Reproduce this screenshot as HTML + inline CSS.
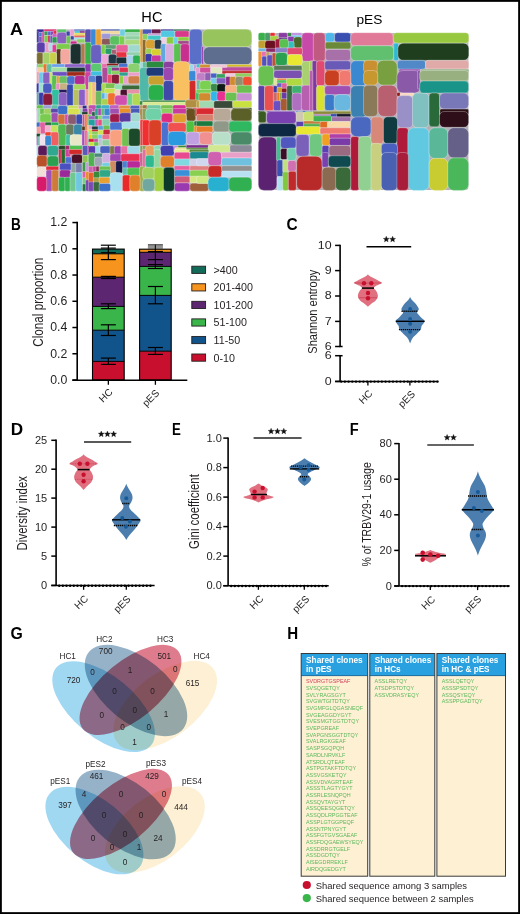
<!DOCTYPE html>
<html><head><meta charset="utf-8"><style>
html,body{margin:0;padding:0;background:#fff;}
body{width:520px;height:914px;overflow:hidden;}
svg{display:block;font-family:"Liberation Sans",sans-serif;}
</style></head><body>
<svg width="520" height="914" viewBox="0 0 520 914">
<rect x="0" y="0" width="520" height="914" fill="#fff"/>
<text transform="translate(9.9,35) scale(1.06,1)" font-size="17" font-weight="bold" fill="#000">A</text>
<text x="151.9" y="21.5" font-size="14.6" text-anchor="middle" fill="#000">HC</text>
<text x="369.4" y="24.2" font-size="13.7" text-anchor="middle" fill="#000">pES</text>
<g><rect x="37" y="29.6" width="214.4" height="161.2" rx="3" fill="#b4b0b8"/><rect x="258.8" y="33.1" width="209.6" height="157" rx="3" fill="#b4b0b8"/><rect x="36.74" y="29.2" width="7.35" height="3.25" rx="0.78" fill="#3a2a9a" stroke="#fff" stroke-width="0.3"/><rect x="44.01" y="29.2" width="12.54" height="2.01" rx="0.48" fill="#e0206a" stroke="#fff" stroke-width="0.3"/><rect x="36.74" y="31.85" width="2.68" height="10.98" rx="0.64" fill="#3a30a0" stroke="#fff" stroke-width="0.3"/><rect x="38.82" y="32.37" width="3.72" height="4.75" rx="0.89" fill="#4a78d0" stroke="#fff" stroke-width="0.3"/><rect x="38.82" y="36.53" width="3.72" height="6.31" rx="0.89" fill="#7a5ab8" stroke="#fff" stroke-width="0.3"/><rect x="41.93" y="31.85" width="2.88" height="10.98" rx="0.69" fill="#d050a8" stroke="#fff" stroke-width="0.3"/><rect x="44.22" y="31.33" width="4.03" height="4.23" rx="0.97" fill="#3a9a5a" stroke="#fff" stroke-width="0.3"/><rect x="47.64" y="31.33" width="3.72" height="4.23" rx="0.89" fill="#5a6ad0" stroke="#fff" stroke-width="0.3"/><rect x="50.76" y="31.33" width="3.2" height="4.23" rx="0.77" fill="#8a3ab0" stroke="#fff" stroke-width="0.3"/><rect x="53.35" y="30.61" width="3.2" height="4.96" rx="0.77" fill="#e0304a" stroke="#fff" stroke-width="0.3"/><rect x="44.22" y="35.49" width="4.03" height="7.35" rx="0.97" fill="#7ad04a" stroke="#fff" stroke-width="0.3"/><rect x="47.64" y="35.49" width="3.2" height="7.35" rx="0.77" fill="#d03a60" stroke="#fff" stroke-width="0.3"/><rect x="50.24" y="35.49" width="2.68" height="7.35" rx="0.64" fill="#5060c0" stroke="#fff" stroke-width="0.3"/><rect x="52.32" y="33.93" width="4.75" height="3.72" rx="0.89" fill="#c860c0" stroke="#fff" stroke-width="0.3"/><rect x="52.32" y="37.05" width="4.75" height="5.79" rx="1.14" fill="#2a9a50" stroke="#fff" stroke-width="0.3"/><rect x="56.99" y="29.2" width="9.43" height="3.77" rx="0.91" fill="#5ac86a" stroke="#fff" stroke-width="0.3"/><rect x="56.99" y="32.37" width="9.95" height="11.5" rx="2.98" fill="#8a60c0" stroke="#fff" stroke-width="0.3"/><rect x="66.33" y="31.33" width="4.23" height="4.75" rx="1.02" fill="#3a48a8" stroke="#fff" stroke-width="0.3"/><rect x="66.33" y="36.01" width="4.23" height="7.87" rx="1.02" fill="#6ac84a" stroke="#fff" stroke-width="0.3"/><rect x="69.97" y="29.2" width="4.75" height="7.41" rx="1.14" fill="#e8a0d0" stroke="#fff" stroke-width="0.3"/><rect x="70.49" y="36.01" width="3.72" height="3.72" rx="0.89" fill="#3a48a8" stroke="#fff" stroke-width="0.3"/><rect x="74.12" y="29.2" width="10.98" height="2.22" rx="0.53" fill="#5a78c8" stroke="#fff" stroke-width="0.3"/><rect x="74.64" y="30.82" width="5.27" height="2.68" rx="0.64" fill="#40c0d0" stroke="#fff" stroke-width="0.3"/><rect x="79.32" y="30.82" width="5.79" height="2.68" rx="0.64" fill="#8a3a90" stroke="#fff" stroke-width="0.3"/><rect x="74.12" y="32.89" width="10.98" height="2.16" rx="0.52" fill="#d8e050" stroke="#fff" stroke-width="0.3"/><rect x="74.12" y="34.45" width="10.98" height="2.16" rx="0.52" fill="#e8a040" stroke="#fff" stroke-width="0.3"/><rect x="74.12" y="36.01" width="10.98" height="2.16" rx="0.52" fill="#e05060" stroke="#fff" stroke-width="0.3"/><rect x="74.12" y="37.57" width="10.98" height="2.16" rx="0.52" fill="#a0e0e8" stroke="#fff" stroke-width="0.3"/><rect x="76.72" y="39.12" width="8.39" height="3.72" rx="0.89" fill="#8ad060" stroke="#fff" stroke-width="0.3"/><rect x="70.49" y="41.2" width="6.31" height="2.68" rx="0.64" fill="#d0208a" stroke="#fff" stroke-width="0.3"/><rect x="85.03" y="29.2" width="6.47" height="13.64" rx="1.55" fill="#5a50b0" stroke="#fff" stroke-width="0.3"/><rect x="36.74" y="42.24" width="8.39" height="10.47" rx="2.52" fill="#5a40a8" stroke="#fff" stroke-width="0.3"/><rect x="45.05" y="42.24" width="4.23" height="10.47" rx="1.02" fill="#e8a0c8" stroke="#fff" stroke-width="0.3"/><rect x="48.68" y="43.28" width="4.23" height="7.35" rx="1.02" fill="#a8e0e8" stroke="#fff" stroke-width="0.3"/><rect x="52.32" y="44.83" width="4.23" height="7.35" rx="1.02" fill="#e83a9a" stroke="#fff" stroke-width="0.3"/><rect x="56.47" y="43.8" width="13.58" height="5.79" rx="1.39" fill="#7acc4a" stroke="#fff" stroke-width="0.3"/><rect x="56.47" y="48.99" width="4.75" height="15.14" rx="1.14" fill="#5a3a1a" stroke="#fff" stroke-width="0.3"/><rect x="60.62" y="48.99" width="9.43" height="15.14" rx="2.83" fill="#f4a8a0" stroke="#fff" stroke-width="0.3"/><rect x="70.49" y="43.8" width="10.98" height="20.33" rx="3.3" fill="#1c3030" stroke="#fff" stroke-width="0.3"/><rect x="80.87" y="43.8" width="4.23" height="20.33" rx="1.02" fill="#b07a50" stroke="#fff" stroke-width="0.3"/><rect x="85.03" y="42.24" width="6.47" height="21.89" rx="1.55" fill="#3ab04a" stroke="#fff" stroke-width="0.3"/><rect x="36.74" y="52.62" width="6.31" height="11.5" rx="1.51" fill="#7a6e30" stroke="#fff" stroke-width="0.3"/><rect x="42.97" y="52.62" width="7.35" height="11.5" rx="1.76" fill="#a8d068" stroke="#fff" stroke-width="0.3"/><rect x="49.72" y="52.62" width="6.83" height="11.5" rx="1.64" fill="#c8d04a" stroke="#fff" stroke-width="0.3"/><rect x="36.74" y="64.05" width="1.64" height="6.47" rx="0.39" fill="#60a0e0" stroke="#fff" stroke-width="0.3"/><rect x="37.78" y="64.05" width="6.31" height="6.47" rx="1.51" fill="#90d060" stroke="#fff" stroke-width="0.3"/><rect x="43.23" y="64.05" width="3.97" height="8.37" rx="0.95" fill="#f07030" stroke="#fff" stroke-width="0.3"/><rect x="46.6" y="64.05" width="5.79" height="8.37" rx="1.39" fill="#60c0a0" stroke="#fff" stroke-width="0.3"/><rect x="51.8" y="64.05" width="13.06" height="3.72" rx="0.89" fill="#6aa0e8" stroke="#fff" stroke-width="0.3"/><rect x="51.8" y="67.16" width="13.06" height="3.36" rx="0.81" fill="#a0e0a0" stroke="#fff" stroke-width="0.3"/><rect x="64.78" y="64.05" width="20.33" height="3.72" rx="0.89" fill="#8a60c8" stroke="#fff" stroke-width="0.3"/><rect x="66.85" y="67.16" width="18.25" height="3.36" rx="0.81" fill="#5a3aa8" stroke="#fff" stroke-width="0.3"/><rect x="85.03" y="64.05" width="6.47" height="8.37" rx="1.55" fill="#8a3ab0" stroke="#fff" stroke-width="0.3"/><rect x="90.74" y="29.2" width="5.27" height="16.23" rx="1.27" fill="#3a8ad8" stroke="#fff" stroke-width="0.3"/><rect x="95.93" y="29.2" width="5.27" height="16.23" rx="1.27" fill="#e8a030" stroke="#fff" stroke-width="0.3"/><rect x="101.12" y="29.2" width="18.77" height="2.22" rx="0.53" fill="#4a5ab0" stroke="#fff" stroke-width="0.3"/><rect x="101.12" y="30.82" width="18.77" height="3.2" rx="0.77" fill="#f0d8a0" stroke="#fff" stroke-width="0.3"/><rect x="101.64" y="33.41" width="8.91" height="5.79" rx="1.39" fill="#a098d8" stroke="#fff" stroke-width="0.3"/><rect x="101.64" y="38.6" width="8.91" height="6.31" rx="1.51" fill="#8a5a5a" stroke="#fff" stroke-width="0.3"/><rect x="109.95" y="36.01" width="9.95" height="8.91" rx="2.67" fill="#5ac060" stroke="#fff" stroke-width="0.3"/><rect x="119.3" y="36.01" width="5.27" height="8.91" rx="1.27" fill="#7ad04a" stroke="#fff" stroke-width="0.3"/><rect x="119.82" y="29.2" width="5.79" height="6.89" rx="1.39" fill="#70d0e0" stroke="#fff" stroke-width="0.3"/><rect x="125.01" y="29.2" width="15.14" height="3.77" rx="0.91" fill="#3ab04a" stroke="#fff" stroke-width="0.3"/><rect x="125.01" y="32.37" width="15.14" height="4.23" rx="1.02" fill="#a0d8b8" stroke="#fff" stroke-width="0.3"/><rect x="125.01" y="36.01" width="15.14" height="4.23" rx="1.02" fill="#90d0a0" stroke="#fff" stroke-width="0.3"/><rect x="125.01" y="39.64" width="15.14" height="5.27" rx="1.27" fill="#a8d880" stroke="#fff" stroke-width="0.3"/><rect x="140.07" y="29.2" width="5.43" height="33.37" rx="1.3" fill="#e8a030" stroke="#fff" stroke-width="0.3"/><rect x="90.74" y="44.83" width="10.98" height="18.77" rx="3.3" fill="#6a60c0" stroke="#fff" stroke-width="0.3"/><rect x="101.12" y="44.83" width="4.23" height="9.43" rx="1.02" fill="#7ad04a" stroke="#fff" stroke-width="0.3"/><rect x="105.28" y="44.83" width="10.98" height="4.23" rx="1.02" fill="#5aa070" stroke="#fff" stroke-width="0.3"/><rect x="105.28" y="48.47" width="6.83" height="5.79" rx="1.39" fill="#2a9a6a" stroke="#fff" stroke-width="0.3"/><rect x="111.51" y="49.51" width="5.27" height="4.75" rx="1.14" fill="#a06070" stroke="#fff" stroke-width="0.3"/><rect x="116.18" y="44.83" width="12.02" height="7.87" rx="1.89" fill="#e8609a" stroke="#fff" stroke-width="0.3"/><rect x="116.18" y="52.1" width="10.98" height="5.79" rx="1.39" fill="#e83040" stroke="#fff" stroke-width="0.3"/><rect x="128.12" y="44.83" width="12.02" height="7.87" rx="1.89" fill="#a0d8d0" stroke="#fff" stroke-width="0.3"/><rect x="126.57" y="52.1" width="13.58" height="3.72" rx="0.89" fill="#90d0b0" stroke="#fff" stroke-width="0.3"/><rect x="101.64" y="54.18" width="7.35" height="9.43" rx="1.76" fill="#f0a8d8" stroke="#fff" stroke-width="0.3"/><rect x="108.39" y="54.18" width="8.39" height="9.95" rx="2.52" fill="#1e3848" stroke="#fff" stroke-width="0.3"/><rect x="116.18" y="57.3" width="10.98" height="6.83" rx="1.64" fill="#1a3038" stroke="#fff" stroke-width="0.3"/><rect x="126.57" y="55.22" width="6.83" height="8.91" rx="1.64" fill="#a8d0f0" stroke="#fff" stroke-width="0.3"/><rect x="132.8" y="55.22" width="7.35" height="8.91" rx="1.76" fill="#2ab050" stroke="#fff" stroke-width="0.3"/><rect x="90.74" y="63.53" width="10.98" height="8.37" rx="2.51" fill="#5ac870" stroke="#fff" stroke-width="0.3"/><rect x="101.64" y="63.53" width="5.79" height="6.99" rx="1.39" fill="#e870b0" stroke="#fff" stroke-width="0.3"/><rect x="106.83" y="63.53" width="11.5" height="2.68" rx="0.64" fill="#8a1a1a" stroke="#fff" stroke-width="0.3"/><rect x="106.83" y="65.6" width="11.5" height="4.92" rx="1.18" fill="#5ab090" stroke="#fff" stroke-width="0.3"/><rect x="118.78" y="63.53" width="8.91" height="4.23" rx="1.02" fill="#4a70d0" stroke="#fff" stroke-width="0.3"/><rect x="118.78" y="67.16" width="8.91" height="3.36" rx="0.81" fill="#e04060" stroke="#fff" stroke-width="0.3"/><rect x="128.12" y="63.53" width="11.76" height="9.41" rx="2.82" fill="#8ad070" stroke="#fff" stroke-width="0.3"/><rect x="140.07" y="61.97" width="5.43" height="8.55" rx="1.3" fill="#a0d8e8" stroke="#fff" stroke-width="0.3"/><rect x="142.5" y="29.2" width="9.07" height="5.33" rx="1.28" fill="#4a5ab8" stroke="#fff" stroke-width="0.3"/><rect x="151.49" y="29.2" width="9.43" height="4.81" rx="1.15" fill="#6a1a4a" stroke="#fff" stroke-width="0.3"/><rect x="160.83" y="29.2" width="13.58" height="2.01" rx="0.48" fill="#3a3a9a" stroke="#fff" stroke-width="0.3"/><rect x="173.82" y="29.2" width="15.66" height="2.01" rx="0.48" fill="#2a7a4a" stroke="#fff" stroke-width="0.3"/><rect x="142.5" y="33.93" width="5.43" height="5.79" rx="1.3" fill="#8ad060" stroke="#fff" stroke-width="0.3"/><rect x="147.85" y="33.41" width="13.06" height="2.68" rx="0.64" fill="#d0a0d8" stroke="#fff" stroke-width="0.3"/><rect x="147.85" y="35.49" width="13.06" height="4.75" rx="1.14" fill="#40c8c8" stroke="#fff" stroke-width="0.3"/><rect x="160.83" y="30.82" width="14.1" height="6.83" rx="1.64" fill="#50c8e0" stroke="#fff" stroke-width="0.3"/><rect x="174.85" y="30.82" width="14.1" height="6.83" rx="1.64" fill="#d83a8a" stroke="#fff" stroke-width="0.3"/><rect x="160.83" y="37.05" width="6.31" height="6.83" rx="1.51" fill="#f0d0e8" stroke="#fff" stroke-width="0.3"/><rect x="166.55" y="37.05" width="7.35" height="7.35" rx="1.76" fill="#8acc40" stroke="#fff" stroke-width="0.3"/><rect x="173.3" y="37.05" width="5.27" height="7.35" rx="1.27" fill="#70d0e8" stroke="#fff" stroke-width="0.3"/><rect x="177.97" y="37.05" width="10.98" height="4.23" rx="1.02" fill="#8ad040" stroke="#fff" stroke-width="0.3"/><rect x="177.97" y="40.68" width="10.98" height="3.72" rx="0.89" fill="#a04a8a" stroke="#fff" stroke-width="0.3"/><rect x="142.5" y="39.64" width="3.36" height="22.93" rx="0.81" fill="#8a6a30" stroke="#fff" stroke-width="0.3"/><rect x="145.78" y="39.64" width="9.43" height="9.43" rx="2.83" fill="#d8a030" stroke="#fff" stroke-width="0.3"/><rect x="154.6" y="39.64" width="6.83" height="9.43" rx="1.64" fill="#2a3a48" stroke="#fff" stroke-width="0.3"/><rect x="145.78" y="48.47" width="6.31" height="5.79" rx="1.39" fill="#a0d050" stroke="#fff" stroke-width="0.3"/><rect x="151.49" y="48.99" width="9.95" height="6.83" rx="1.64" fill="#d8d030" stroke="#fff" stroke-width="0.3"/><rect x="145.26" y="53.66" width="6.83" height="8.39" rx="1.64" fill="#3a3aa8" stroke="#fff" stroke-width="0.3"/><rect x="151.49" y="55.22" width="9.95" height="7.35" rx="1.76" fill="#c83aa0" stroke="#fff" stroke-width="0.3"/><rect x="160.83" y="43.8" width="5.27" height="18.77" rx="1.27" fill="#60a8e0" stroke="#fff" stroke-width="0.3"/><rect x="165.51" y="43.8" width="8.91" height="18.77" rx="2.67" fill="#d8b0e0" stroke="#fff" stroke-width="0.3"/><rect x="173.82" y="43.8" width="7.35" height="18.77" rx="1.76" fill="#5ac050" stroke="#fff" stroke-width="0.3"/><rect x="180.57" y="43.8" width="8.91" height="18.77" rx="2.67" fill="#c83090" stroke="#fff" stroke-width="0.3"/><rect x="189.39" y="29.2" width="12.85" height="35.45" rx="3.86" fill="#5a70c8" stroke="#fff" stroke-width="0.3"/><rect x="142.5" y="61.97" width="3.88" height="8.55" rx="0.93" fill="#60c0a0" stroke="#fff" stroke-width="0.3"/><rect x="146.3" y="61.45" width="17.73" height="6.31" rx="1.51" fill="#2a8a40" stroke="#fff" stroke-width="0.3"/><rect x="163.43" y="61.45" width="10.47" height="9.07" rx="2.72" fill="#8a40a0" stroke="#fff" stroke-width="0.3"/><rect x="173.3" y="61.45" width="16.18" height="39.52" rx="4.85" fill="#f8c060" stroke="#fff" stroke-width="0.3"/><rect x="189.39" y="64.57" width="4.75" height="5.95" rx="1.14" fill="#a0d8e8" stroke="#fff" stroke-width="0.3"/><rect x="193.55" y="64.57" width="5.95" height="5.95" rx="1.43" fill="#c0a0d8" stroke="#fff" stroke-width="0.3"/><rect x="201.65" y="46.39" width="1.85" height="17.73" rx="0.44" fill="#9a40b0" stroke="#fff" stroke-width="0.3"/><rect x="202.37" y="29.2" width="49.43" height="17.79" rx="5.34" fill="#98c45e" stroke="#fff" stroke-width="0.3"/><rect x="203.41" y="46.91" width="48.39" height="17.73" rx="5.32" fill="#5d6e8e" stroke="#fff" stroke-width="0.3"/><rect x="196.5" y="64.05" width="3.88" height="9.41" rx="0.93" fill="#40c0d0" stroke="#fff" stroke-width="0.3"/><rect x="199.78" y="64.57" width="10.98" height="3.72" rx="0.89" fill="#d09030" stroke="#fff" stroke-width="0.3"/><rect x="210.16" y="64.57" width="17.22" height="5.95" rx="1.43" fill="#f0c8d8" stroke="#fff" stroke-width="0.3"/><rect x="226.78" y="64.57" width="25.02" height="2.68" rx="0.64" fill="#d8c020" stroke="#fff" stroke-width="0.3"/><rect x="226.78" y="66.64" width="25.02" height="3.88" rx="0.93" fill="#8a2050" stroke="#fff" stroke-width="0.3"/><rect x="36.5" y="67.5" width="1.36" height="4.92" rx="0.33" fill="#e0a0d0" stroke="#fff" stroke-width="0.3"/><rect x="37.26" y="67.5" width="6.31" height="4.92" rx="1.18" fill="#f0d0a0" stroke="#fff" stroke-width="0.3"/><rect x="51.8" y="67.5" width="15.66" height="4.4" rx="1.06" fill="#a0e0a0" stroke="#fff" stroke-width="0.3"/><rect x="66.85" y="67.5" width="18.25" height="4.92" rx="1.18" fill="#1a3838" stroke="#fff" stroke-width="0.3"/><rect x="51.8" y="71.82" width="15.66" height="4.23" rx="1.02" fill="#6a50c0" stroke="#fff" stroke-width="0.3"/><rect x="66.85" y="71.82" width="18.25" height="4.23" rx="1.02" fill="#a02a1a" stroke="#fff" stroke-width="0.3"/><rect x="36.5" y="71.82" width="2.92" height="12.02" rx="0.7" fill="#f0a0b0" stroke="#fff" stroke-width="0.3"/><rect x="38.82" y="72.33" width="4.75" height="11.5" rx="1.14" fill="#70c8e8" stroke="#fff" stroke-width="0.3"/><rect x="42.97" y="72.33" width="7.35" height="11.5" rx="1.76" fill="#8a60c0" stroke="#fff" stroke-width="0.3"/><rect x="49.72" y="72.33" width="2.68" height="17.73" rx="0.64" fill="#c8e070" stroke="#fff" stroke-width="0.3"/><rect x="51.8" y="75.45" width="5.27" height="14.62" rx="1.27" fill="#5ac050" stroke="#fff" stroke-width="0.3"/><rect x="56.47" y="75.97" width="3.2" height="7.87" rx="0.77" fill="#e8a040" stroke="#fff" stroke-width="0.3"/><rect x="59.07" y="75.97" width="8.39" height="7.87" rx="1.89" fill="#6ac060" stroke="#fff" stroke-width="0.3"/><rect x="66.85" y="75.97" width="8.39" height="8.39" rx="2.52" fill="#4a70d0" stroke="#fff" stroke-width="0.3"/><rect x="74.64" y="75.45" width="10.47" height="9.43" rx="2.83" fill="#b02a90" stroke="#fff" stroke-width="0.3"/><rect x="85.03" y="71.82" width="6.47" height="18.25" rx="1.55" fill="#d040a0" stroke="#fff" stroke-width="0.3"/><rect x="36.5" y="83.24" width="2.92" height="9.95" rx="0.7" fill="#3a3aa8" stroke="#fff" stroke-width="0.3"/><rect x="38.82" y="83.24" width="4.75" height="9.95" rx="1.14" fill="#a0e0d0" stroke="#fff" stroke-width="0.3"/><rect x="42.97" y="83.24" width="8.91" height="9.95" rx="2.67" fill="#4a5ac0" stroke="#fff" stroke-width="0.3"/><rect x="55.95" y="83.24" width="4.23" height="6.83" rx="1.02" fill="#e890c0" stroke="#fff" stroke-width="0.3"/><rect x="59.58" y="83.24" width="7.87" height="6.83" rx="1.64" fill="#c8b080" stroke="#fff" stroke-width="0.3"/><rect x="58.55" y="89.47" width="8.91" height="3.72" rx="0.89" fill="#2a1a5a" stroke="#fff" stroke-width="0.3"/><rect x="51.8" y="89.47" width="7.35" height="15.66" rx="1.76" fill="#30c0a0" stroke="#fff" stroke-width="0.3"/><rect x="58.55" y="92.58" width="8.91" height="13.06" rx="2.67" fill="#8a60c0" stroke="#fff" stroke-width="0.3"/><rect x="66.85" y="84.28" width="6.83" height="21.37" rx="1.64" fill="#3a4ab0" stroke="#fff" stroke-width="0.3"/><rect x="73.08" y="84.28" width="12.54" height="5.79" rx="1.39" fill="#a8d860" stroke="#fff" stroke-width="0.3"/><rect x="73.08" y="89.47" width="6.31" height="16.18" rx="1.51" fill="#b8c060" stroke="#fff" stroke-width="0.3"/><rect x="78.8" y="89.47" width="6.83" height="16.18" rx="1.64" fill="#8a60c8" stroke="#fff" stroke-width="0.3"/><rect x="85.03" y="89.47" width="6.47" height="16.18" rx="1.55" fill="#f0a0a0" stroke="#fff" stroke-width="0.3"/><rect x="36.5" y="92.58" width="2.92" height="13.06" rx="0.7" fill="#70a0b0" stroke="#fff" stroke-width="0.3"/><rect x="38.82" y="92.58" width="4.75" height="12.54" rx="1.14" fill="#3a3aa8" stroke="#fff" stroke-width="0.3"/><rect x="42.97" y="93.62" width="9.43" height="12.02" rx="2.83" fill="#8a1a3a" stroke="#fff" stroke-width="0.3"/><rect x="36.5" y="105.05" width="7.07" height="6.47" rx="1.55" fill="#6ac050" stroke="#fff" stroke-width="0.3"/><rect x="42.97" y="105.05" width="8.91" height="6.47" rx="1.55" fill="#a0a0d8" stroke="#fff" stroke-width="0.3"/><rect x="51.28" y="105.05" width="6.83" height="6.47" rx="1.55" fill="#60c0a0" stroke="#fff" stroke-width="0.3"/><rect x="57.51" y="105.57" width="10.21" height="8.89" rx="2.67" fill="#3a70c8" stroke="#fff" stroke-width="0.3"/><rect x="67.89" y="105.57" width="10.98" height="5.95" rx="1.43" fill="#c8e060" stroke="#fff" stroke-width="0.3"/><rect x="78.28" y="105.57" width="4.75" height="5.95" rx="1.14" fill="#e8a0b0" stroke="#fff" stroke-width="0.3"/><rect x="82.43" y="105.57" width="4.75" height="5.95" rx="1.14" fill="#2a2a8a" stroke="#fff" stroke-width="0.3"/><rect x="86.84" y="105.05" width="4.66" height="9.41" rx="1.12" fill="#e8c060" stroke="#fff" stroke-width="0.3"/><rect x="102.16" y="67.5" width="5.79" height="15.3" rx="1.39" fill="#b04a9a" stroke="#fff" stroke-width="0.3"/><rect x="107.87" y="67.5" width="4.23" height="6.99" rx="1.02" fill="#5ac870" stroke="#fff" stroke-width="0.3"/><rect x="111.51" y="67.5" width="8.39" height="3.88" rx="0.93" fill="#8a3a90" stroke="#fff" stroke-width="0.3"/><rect x="111.51" y="70.78" width="8.39" height="3.72" rx="0.89" fill="#8ad060" stroke="#fff" stroke-width="0.3"/><rect x="119.3" y="67.5" width="8.91" height="5.43" rx="1.3" fill="#e03050" stroke="#fff" stroke-width="0.3"/><rect x="119.3" y="72.33" width="8.91" height="3.72" rx="0.89" fill="#30a090" stroke="#fff" stroke-width="0.3"/><rect x="128.12" y="72.33" width="11.5" height="4.23" rx="1.02" fill="#e8a0c8" stroke="#fff" stroke-width="0.3"/><rect x="139.55" y="67.5" width="9.43" height="33.99" rx="2.83" fill="#50b8a8" stroke="#fff" stroke-width="0.3"/><rect x="90.74" y="71.3" width="10.98" height="4.75" rx="1.14" fill="#40c0e0" stroke="#fff" stroke-width="0.3"/><rect x="88.5" y="75.45" width="6.99" height="15.66" rx="1.68" fill="#5a80d0" stroke="#fff" stroke-width="0.3"/><rect x="95.41" y="75.45" width="6.83" height="16.18" rx="1.64" fill="#2a3a8a" stroke="#fff" stroke-width="0.3"/><rect x="107.35" y="74.41" width="4.75" height="9.43" rx="1.14" fill="#e85070" stroke="#fff" stroke-width="0.3"/><rect x="111.51" y="74.41" width="7.87" height="9.43" rx="1.89" fill="#8a1a3a" stroke="#fff" stroke-width="0.3"/><rect x="119.3" y="75.97" width="4.75" height="7.87" rx="1.14" fill="#8ad040" stroke="#fff" stroke-width="0.3"/><rect x="123.45" y="75.97" width="5.27" height="7.87" rx="1.27" fill="#e8a0d0" stroke="#fff" stroke-width="0.3"/><rect x="128.12" y="75.97" width="11.5" height="7.87" rx="1.89" fill="#d0804a" stroke="#fff" stroke-width="0.3"/><rect x="102.16" y="83.24" width="13.06" height="5.27" rx="1.27" fill="#7ac050" stroke="#fff" stroke-width="0.3"/><rect x="114.62" y="84.28" width="7.87" height="5.79" rx="1.39" fill="#90e0b0" stroke="#fff" stroke-width="0.3"/><rect x="121.89" y="85.32" width="17.73" height="4.75" rx="1.14" fill="#3a6a3a" stroke="#fff" stroke-width="0.3"/><rect x="88.5" y="82.2" width="3.88" height="22.93" rx="0.93" fill="#d8e060" stroke="#fff" stroke-width="0.3"/><rect x="91.78" y="82.2" width="4.23" height="22.93" rx="1.02" fill="#f0c080" stroke="#fff" stroke-width="0.3"/><rect x="95.41" y="91.03" width="6.83" height="14.1" rx="1.64" fill="#70b860" stroke="#fff" stroke-width="0.3"/><rect x="101.64" y="83.24" width="3.72" height="10.47" rx="0.89" fill="#a8d858" stroke="#fff" stroke-width="0.3"/><rect x="104.76" y="88.43" width="10.47" height="5.27" rx="1.27" fill="#c8e050" stroke="#fff" stroke-width="0.3"/><rect x="114.62" y="89.47" width="6.31" height="6.31" rx="1.51" fill="#f0d0c8" stroke="#fff" stroke-width="0.3"/><rect x="120.33" y="89.47" width="7.35" height="6.83" rx="1.64" fill="#4a1030" stroke="#fff" stroke-width="0.3"/><rect x="127.08" y="89.47" width="12.54" height="4.75" rx="1.14" fill="#e890a8" stroke="#fff" stroke-width="0.3"/><rect x="101.64" y="93.1" width="3.72" height="6.31" rx="0.89" fill="#50b0e8" stroke="#fff" stroke-width="0.3"/><rect x="104.76" y="93.1" width="3.72" height="6.31" rx="0.89" fill="#a0d0e0" stroke="#fff" stroke-width="0.3"/><rect x="101.64" y="98.82" width="6.83" height="6.31" rx="1.51" fill="#a8d050" stroke="#fff" stroke-width="0.3"/><rect x="107.87" y="93.1" width="7.35" height="12.02" rx="1.76" fill="#f07030" stroke="#fff" stroke-width="0.3"/><rect x="114.62" y="95.18" width="13.06" height="9.95" rx="2.98" fill="#d050b0" stroke="#fff" stroke-width="0.3"/><rect x="127.08" y="93.62" width="5.79" height="11.5" rx="1.39" fill="#70d090" stroke="#fff" stroke-width="0.3"/><rect x="132.28" y="93.62" width="7.87" height="11.5" rx="1.89" fill="#b0d850" stroke="#fff" stroke-width="0.3"/><rect x="139.55" y="100.89" width="5.95" height="4.23" rx="1.02" fill="#3a8a40" stroke="#fff" stroke-width="0.3"/><rect x="88.5" y="105.05" width="8.03" height="6.47" rx="1.55" fill="#c050b0" stroke="#fff" stroke-width="0.3"/><rect x="95.93" y="105.05" width="5.79" height="6.47" rx="1.39" fill="#30a090" stroke="#fff" stroke-width="0.3"/><rect x="101.12" y="105.05" width="8.91" height="6.47" rx="1.55" fill="#40b0c8" stroke="#fff" stroke-width="0.3"/><rect x="109.43" y="105.05" width="9.95" height="6.47" rx="1.55" fill="#c060c0" stroke="#fff" stroke-width="0.3"/><rect x="118.78" y="105.57" width="12.02" height="5.95" rx="1.43" fill="#e09040" stroke="#fff" stroke-width="0.3"/><rect x="130.2" y="105.57" width="9.95" height="5.95" rx="1.43" fill="#5060c0" stroke="#fff" stroke-width="0.3"/><rect x="139.55" y="105.05" width="5.95" height="6.47" rx="1.43" fill="#c0a060" stroke="#fff" stroke-width="0.3"/><rect x="146.3" y="67.5" width="17.73" height="8.55" rx="2.56" fill="#1e3a78" stroke="#fff" stroke-width="0.3"/><rect x="148.37" y="75.97" width="15.66" height="8.91" rx="2.67" fill="#c8a030" stroke="#fff" stroke-width="0.3"/><rect x="148.37" y="84.8" width="15.66" height="16.18" rx="4.7" fill="#2ab04a" stroke="#fff" stroke-width="0.3"/><rect x="163.43" y="67.5" width="9.95" height="13.22" rx="2.98" fill="#9a48b0" stroke="#fff" stroke-width="0.3"/><rect x="163.43" y="80.64" width="9.95" height="20.33" rx="2.98" fill="#4048a8" stroke="#fff" stroke-width="0.3"/><rect x="188.87" y="70.78" width="7.35" height="10.47" rx="1.76" fill="#3a8ad8" stroke="#fff" stroke-width="0.3"/><rect x="189.39" y="80.64" width="6.83" height="20.33" rx="1.64" fill="#d02a2a" stroke="#fff" stroke-width="0.3"/><rect x="195.62" y="67.5" width="3.88" height="8.03" rx="0.93" fill="#e0a0d0" stroke="#fff" stroke-width="0.3"/><rect x="195.62" y="74.93" width="3.88" height="15.14" rx="0.93" fill="#f0a0b0" stroke="#fff" stroke-width="0.3"/><rect x="195.62" y="89.47" width="3.88" height="11.5" rx="0.93" fill="#40c060" stroke="#fff" stroke-width="0.3"/><rect x="142.5" y="100.37" width="43.34" height="2.16" rx="0.52" fill="#3a8a40" stroke="#fff" stroke-width="0.3"/><rect x="142.5" y="101.93" width="43.34" height="3.72" rx="0.89" fill="#d8e890" stroke="#fff" stroke-width="0.3"/><rect x="185.24" y="99.85" width="14.26" height="7.87" rx="1.89" fill="#b09040" stroke="#fff" stroke-width="0.3"/><rect x="142.5" y="105.05" width="4.92" height="6.47" rx="1.18" fill="#a07040" stroke="#fff" stroke-width="0.3"/><rect x="146.82" y="105.05" width="14.1" height="6.47" rx="1.55" fill="#70c8a0" stroke="#fff" stroke-width="0.3"/><rect x="160.83" y="105.05" width="12.54" height="6.47" rx="1.55" fill="#7ac050" stroke="#fff" stroke-width="0.3"/><rect x="172.78" y="105.05" width="13.06" height="6.47" rx="1.55" fill="#d83090" stroke="#fff" stroke-width="0.3"/><rect x="186.28" y="107.64" width="6.83" height="3.88" rx="0.93" fill="#6a4a2a" stroke="#fff" stroke-width="0.3"/><rect x="192.51" y="107.64" width="6.99" height="3.88" rx="0.93" fill="#e04060" stroke="#fff" stroke-width="0.3"/><rect x="199.78" y="67.5" width="10.98" height="5.43" rx="1.3" fill="#d050a0" stroke="#fff" stroke-width="0.3"/><rect x="210.68" y="67.5" width="11.5" height="5.95" rx="1.43" fill="#e0e8c0" stroke="#fff" stroke-width="0.3"/><rect x="222.1" y="67.5" width="29.7" height="3.88" rx="0.93" fill="#c04aa0" stroke="#fff" stroke-width="0.3"/><rect x="222.1" y="70.78" width="29.7" height="3.2" rx="0.77" fill="#c02a2a" stroke="#fff" stroke-width="0.3"/><rect x="196.5" y="72.85" width="9.07" height="7.87" rx="1.89" fill="#c080c8" stroke="#fff" stroke-width="0.3"/><rect x="204.97" y="72.85" width="5.79" height="7.87" rx="1.39" fill="#9060b0" stroke="#fff" stroke-width="0.3"/><rect x="210.68" y="73.37" width="6.31" height="4.75" rx="1.14" fill="#4a60c8" stroke="#fff" stroke-width="0.3"/><rect x="216.39" y="73.89" width="9.43" height="4.23" rx="1.02" fill="#3aa060" stroke="#fff" stroke-width="0.3"/><rect x="225.22" y="73.37" width="10.47" height="3.72" rx="0.89" fill="#f0c8e0" stroke="#fff" stroke-width="0.3"/><rect x="235.08" y="73.37" width="16.72" height="3.72" rx="0.89" fill="#90d060" stroke="#fff" stroke-width="0.3"/><rect x="210.68" y="78.05" width="6.31" height="5.79" rx="1.39" fill="#70d0e8" stroke="#fff" stroke-width="0.3"/><rect x="216.39" y="78.05" width="9.43" height="5.79" rx="1.39" fill="#8060c0" stroke="#fff" stroke-width="0.3"/><rect x="225.74" y="76.49" width="4.75" height="9.43" rx="1.14" fill="#8a2a8a" stroke="#fff" stroke-width="0.3"/><rect x="229.89" y="76.49" width="5.79" height="9.43" rx="1.39" fill="#d08a30" stroke="#fff" stroke-width="0.3"/><rect x="235.08" y="76.49" width="8.39" height="9.43" rx="2.52" fill="#909070" stroke="#fff" stroke-width="0.3"/><rect x="242.87" y="76.49" width="8.93" height="9.43" rx="2.68" fill="#f05030" stroke="#fff" stroke-width="0.3"/><rect x="196.5" y="80.12" width="3.88" height="9.95" rx="0.93" fill="#70b8a8" stroke="#fff" stroke-width="0.3"/><rect x="199.78" y="80.64" width="11.5" height="9.43" rx="2.83" fill="#7ad050" stroke="#fff" stroke-width="0.3"/><rect x="210.68" y="83.76" width="6.83" height="8.39" rx="1.64" fill="#3a8a4a" stroke="#fff" stroke-width="0.3"/><rect x="216.91" y="83.76" width="8.91" height="8.39" rx="2.52" fill="#101818" stroke="#fff" stroke-width="0.3"/><rect x="225.22" y="85.32" width="12.02" height="7.87" rx="1.89" fill="#f8b080" stroke="#fff" stroke-width="0.3"/><rect x="236.64" y="85.32" width="15.16" height="7.87" rx="1.89" fill="#6ac050" stroke="#fff" stroke-width="0.3"/><rect x="196.5" y="89.47" width="14.78" height="3.72" rx="0.89" fill="#7ad050" stroke="#fff" stroke-width="0.3"/><rect x="198.74" y="93.1" width="12.02" height="7.87" rx="1.89" fill="#d08a30" stroke="#fff" stroke-width="0.3"/><rect x="210.68" y="91.55" width="6.83" height="9.43" rx="1.64" fill="#30b8e8" stroke="#fff" stroke-width="0.3"/><rect x="216.91" y="91.55" width="8.91" height="9.43" rx="2.67" fill="#e83090" stroke="#fff" stroke-width="0.3"/><rect x="225.22" y="92.58" width="12.02" height="8.39" rx="2.52" fill="#6ac050" stroke="#fff" stroke-width="0.3"/><rect x="236.64" y="93.1" width="15.16" height="7.87" rx="1.89" fill="#c890d0" stroke="#fff" stroke-width="0.3"/><rect x="196.5" y="100.89" width="3.36" height="6.83" rx="0.81" fill="#c0a040" stroke="#fff" stroke-width="0.3"/><rect x="199.26" y="100.89" width="14.62" height="6.83" rx="1.64" fill="#a0d8b0" stroke="#fff" stroke-width="0.3"/><rect x="213.8" y="100.89" width="19.29" height="7.87" rx="1.89" fill="#3a4a38" stroke="#fff" stroke-width="0.3"/><rect x="232.49" y="100.89" width="19.31" height="6.83" rx="1.64" fill="#c8e040" stroke="#fff" stroke-width="0.3"/><rect x="196.5" y="107.64" width="17.38" height="3.88" rx="0.93" fill="#c82030" stroke="#fff" stroke-width="0.3"/><rect x="213.28" y="108.16" width="19.81" height="3.36" rx="0.81" fill="#e0d0c0" stroke="#fff" stroke-width="0.3"/><rect x="232.49" y="107.64" width="19.31" height="3.88" rx="0.93" fill="#4a5a30" stroke="#fff" stroke-width="0.3"/><rect x="36.5" y="108.5" width="1.36" height="14.26" rx="0.33" fill="#c0a0d8" stroke="#fff" stroke-width="0.3"/><rect x="37.26" y="108.5" width="3.2" height="14.26" rx="0.77" fill="#a0d8b0" stroke="#fff" stroke-width="0.3"/><rect x="39.85" y="108.5" width="4.75" height="5.95" rx="1.14" fill="#6ac050" stroke="#fff" stroke-width="0.3"/><rect x="44.01" y="108.5" width="7.35" height="5.95" rx="1.43" fill="#a0d060" stroke="#fff" stroke-width="0.3"/><rect x="50.76" y="108.5" width="7.35" height="4.4" rx="1.06" fill="#5a4ab0" stroke="#fff" stroke-width="0.3"/><rect x="67.89" y="108.5" width="11.5" height="5.95" rx="1.43" fill="#d8e050" stroke="#fff" stroke-width="0.3"/><rect x="79.32" y="108.5" width="3.72" height="5.95" rx="0.89" fill="#a0d8b0" stroke="#fff" stroke-width="0.3"/><rect x="82.43" y="108.5" width="5.27" height="5.95" rx="1.27" fill="#8a3ab0" stroke="#fff" stroke-width="0.3"/><rect x="39.85" y="113.85" width="11.5" height="8.91" rx="2.67" fill="#7acc50" stroke="#fff" stroke-width="0.3"/><rect x="51.28" y="112.82" width="6.83" height="9.95" rx="1.64" fill="#a050b0" stroke="#fff" stroke-width="0.3"/><rect x="58.03" y="114.37" width="7.35" height="9.95" rx="1.76" fill="#d0703a" stroke="#fff" stroke-width="0.3"/><rect x="64.78" y="114.37" width="3.2" height="9.95" rx="0.77" fill="#d050b0" stroke="#fff" stroke-width="0.3"/><rect x="67.89" y="114.37" width="8.91" height="9.95" rx="2.67" fill="#8a5a70" stroke="#fff" stroke-width="0.3"/><rect x="76.2" y="114.37" width="6.31" height="9.95" rx="1.51" fill="#3a4ab0" stroke="#fff" stroke-width="0.3"/><rect x="81.91" y="111.78" width="5.79" height="3.2" rx="0.77" fill="#1a3a2a" stroke="#fff" stroke-width="0.3"/><rect x="82.43" y="114.37" width="2.68" height="16.7" rx="0.64" fill="#d050a0" stroke="#fff" stroke-width="0.3"/><rect x="84.51" y="114.37" width="3.2" height="16.7" rx="0.77" fill="#e88050" stroke="#fff" stroke-width="0.3"/><rect x="87.1" y="114.37" width="4.4" height="11.5" rx="1.06" fill="#6ac050" stroke="#fff" stroke-width="0.3"/><rect x="36.5" y="122.16" width="3.95" height="5.27" rx="0.95" fill="#3a70c8" stroke="#fff" stroke-width="0.3"/><rect x="39.85" y="122.16" width="5.79" height="11.5" rx="1.39" fill="#e060a0" stroke="#fff" stroke-width="0.3"/><rect x="45.05" y="122.16" width="6.83" height="3.72" rx="0.89" fill="#2a6a3a" stroke="#fff" stroke-width="0.3"/><rect x="51.28" y="122.16" width="7.35" height="3.72" rx="0.89" fill="#2ab050" stroke="#fff" stroke-width="0.3"/><rect x="45.05" y="125.28" width="6.31" height="7.35" rx="1.51" fill="#f0b0d0" stroke="#fff" stroke-width="0.3"/><rect x="50.76" y="125.28" width="7.87" height="7.35" rx="1.76" fill="#c8e060" stroke="#fff" stroke-width="0.3"/><rect x="36.5" y="126.83" width="3.95" height="7.35" rx="0.95" fill="#f0a0a0" stroke="#fff" stroke-width="0.3"/><rect x="58.03" y="124.24" width="8.39" height="21.37" rx="2.52" fill="#50b850" stroke="#fff" stroke-width="0.3"/><rect x="65.82" y="124.24" width="8.39" height="10.98" rx="2.52" fill="#6a7a60" stroke="#fff" stroke-width="0.3"/><rect x="73.6" y="124.24" width="8.91" height="10.98" rx="2.67" fill="#3a88a8" stroke="#fff" stroke-width="0.3"/><rect x="81.91" y="126.32" width="3.2" height="4.75" rx="0.77" fill="#5a3a1a" stroke="#fff" stroke-width="0.3"/><rect x="87.1" y="125.28" width="4.4" height="6.83" rx="1.06" fill="#e8c030" stroke="#fff" stroke-width="0.3"/><rect x="36.5" y="133.58" width="3.95" height="3.72" rx="0.89" fill="#1a4a2a" stroke="#fff" stroke-width="0.3"/><rect x="45.05" y="132.03" width="6.31" height="4.23" rx="1.02" fill="#f04030" stroke="#fff" stroke-width="0.3"/><rect x="50.76" y="132.03" width="7.87" height="13.58" rx="1.89" fill="#f06060" stroke="#fff" stroke-width="0.3"/><rect x="36.5" y="136.7" width="1.88" height="8.91" rx="0.45" fill="#9a50b0" stroke="#fff" stroke-width="0.3"/><rect x="37.78" y="136.7" width="2.68" height="8.91" rx="0.64" fill="#70b8a8" stroke="#fff" stroke-width="0.3"/><rect x="39.85" y="134.62" width="5.79" height="10.98" rx="1.39" fill="#f0e0f0" stroke="#fff" stroke-width="0.3"/><rect x="45.05" y="135.66" width="6.31" height="9.95" rx="1.51" fill="#3a88d0" stroke="#fff" stroke-width="0.3"/><rect x="65.82" y="134.62" width="4.75" height="10.98" rx="1.14" fill="#40c0a0" stroke="#fff" stroke-width="0.3"/><rect x="69.97" y="134.62" width="12.54" height="10.98" rx="3.3" fill="#e8e8c8" stroke="#fff" stroke-width="0.3"/><rect x="81.91" y="130.47" width="3.2" height="15.14" rx="0.77" fill="#a050c0" stroke="#fff" stroke-width="0.3"/><rect x="84.51" y="130.47" width="3.2" height="15.14" rx="0.77" fill="#e87090" stroke="#fff" stroke-width="0.3"/><rect x="87.1" y="131.51" width="4.4" height="14.1" rx="1.06" fill="#40c8e8" stroke="#fff" stroke-width="0.3"/><rect x="36.5" y="145.53" width="2.14" height="9.93" rx="0.51" fill="#a0d8e8" stroke="#fff" stroke-width="0.3"/><rect x="38.04" y="145.53" width="9.17" height="10.45" rx="2.75" fill="#5a1a5a" stroke="#fff" stroke-width="0.3"/><rect x="47.12" y="145.53" width="11.5" height="10.45" rx="3.13" fill="#30a890" stroke="#fff" stroke-width="0.3"/><rect x="58.55" y="145.53" width="7.35" height="6.99" rx="1.68" fill="#2a4a2a" stroke="#fff" stroke-width="0.3"/><rect x="65.3" y="145.53" width="4.75" height="6.99" rx="1.14" fill="#a02a6a" stroke="#fff" stroke-width="0.3"/><rect x="69.45" y="145.53" width="13.06" height="4.75" rx="1.14" fill="#50c050" stroke="#fff" stroke-width="0.3"/><rect x="69.45" y="149.68" width="13.06" height="2.84" rx="0.68" fill="#c02a2a" stroke="#fff" stroke-width="0.3"/><rect x="82.43" y="145.53" width="5.79" height="9.93" rx="1.39" fill="#5a5ab8" stroke="#fff" stroke-width="0.3"/><rect x="87.62" y="145.53" width="3.88" height="9.93" rx="0.93" fill="#c02a90" stroke="#fff" stroke-width="0.3"/><rect x="88.5" y="108.5" width="3.88" height="5.95" rx="0.93" fill="#c050b0" stroke="#fff" stroke-width="0.3"/><rect x="91.78" y="111.78" width="3.72" height="4.75" rx="0.89" fill="#2a5a4a" stroke="#fff" stroke-width="0.3"/><rect x="94.89" y="108.5" width="3.72" height="6.99" rx="0.89" fill="#30a090" stroke="#fff" stroke-width="0.3"/><rect x="98.01" y="108.5" width="3.72" height="6.99" rx="0.89" fill="#a050b0" stroke="#fff" stroke-width="0.3"/><rect x="101.12" y="108.5" width="3.72" height="6.99" rx="0.89" fill="#5ac070" stroke="#fff" stroke-width="0.3"/><rect x="104.24" y="108.5" width="5.79" height="6.99" rx="1.39" fill="#3a8ad0" stroke="#fff" stroke-width="0.3"/><rect x="88.5" y="115.93" width="6.99" height="3.72" rx="0.89" fill="#a060c0" stroke="#fff" stroke-width="0.3"/><rect x="94.89" y="115.41" width="3.72" height="4.23" rx="0.89" fill="#2a9a5a" stroke="#fff" stroke-width="0.3"/><rect x="98.01" y="115.41" width="4.75" height="4.23" rx="1.02" fill="#8ad070" stroke="#fff" stroke-width="0.3"/><rect x="102.16" y="115.41" width="7.87" height="4.23" rx="1.02" fill="#6aa0e0" stroke="#fff" stroke-width="0.3"/><rect x="88.5" y="119.57" width="6.99" height="6.31" rx="1.51" fill="#20a0a0" stroke="#fff" stroke-width="0.3"/><rect x="94.89" y="119.57" width="3.72" height="6.31" rx="0.89" fill="#c060c0" stroke="#fff" stroke-width="0.3"/><rect x="98.01" y="119.57" width="4.23" height="6.31" rx="1.02" fill="#e85080" stroke="#fff" stroke-width="0.3"/><rect x="102.16" y="119.05" width="7.87" height="6.83" rx="1.64" fill="#80d0b0" stroke="#fff" stroke-width="0.3"/><rect x="88.5" y="125.28" width="3.88" height="4.75" rx="0.93" fill="#e0a0d0" stroke="#fff" stroke-width="0.3"/><rect x="91.78" y="126.32" width="6.83" height="3.72" rx="0.89" fill="#1a3a3a" stroke="#fff" stroke-width="0.3"/><rect x="98.01" y="125.8" width="5.79" height="4.23" rx="1.02" fill="#5aa0d0" stroke="#fff" stroke-width="0.3"/><rect x="103.2" y="125.28" width="6.83" height="4.75" rx="1.14" fill="#6ac050" stroke="#fff" stroke-width="0.3"/><rect x="88.5" y="129.43" width="3.88" height="5.79" rx="0.93" fill="#c8e050" stroke="#fff" stroke-width="0.3"/><rect x="91.78" y="129.43" width="6.83" height="2.68" rx="0.64" fill="#c02a30" stroke="#fff" stroke-width="0.3"/><rect x="91.78" y="131.51" width="6.83" height="3.72" rx="0.89" fill="#8ad060" stroke="#fff" stroke-width="0.3"/><rect x="98.01" y="129.95" width="5.79" height="5.27" rx="1.27" fill="#d0e050" stroke="#fff" stroke-width="0.3"/><rect x="103.2" y="129.43" width="6.83" height="5.79" rx="1.39" fill="#c82a40" stroke="#fff" stroke-width="0.3"/><rect x="88.5" y="134.62" width="3.88" height="4.75" rx="0.93" fill="#e8d020" stroke="#fff" stroke-width="0.3"/><rect x="91.78" y="134.62" width="6.83" height="4.75" rx="1.14" fill="#8ad060" stroke="#fff" stroke-width="0.3"/><rect x="98.01" y="134.62" width="4.75" height="4.75" rx="1.14" fill="#70c8e0" stroke="#fff" stroke-width="0.3"/><rect x="102.16" y="134.62" width="7.87" height="4.75" rx="1.14" fill="#e87090" stroke="#fff" stroke-width="0.3"/><rect x="88.5" y="138.78" width="5.95" height="3.72" rx="0.89" fill="#d02030" stroke="#fff" stroke-width="0.3"/><rect x="93.85" y="138.78" width="4.75" height="3.72" rx="0.89" fill="#c050a0" stroke="#fff" stroke-width="0.3"/><rect x="98.01" y="138.78" width="4.75" height="6.83" rx="1.14" fill="#c0c0d8" stroke="#fff" stroke-width="0.3"/><rect x="102.16" y="139.82" width="7.87" height="5.79" rx="1.39" fill="#90d0a0" stroke="#fff" stroke-width="0.3"/><rect x="88.5" y="141.89" width="5.95" height="4.23" rx="1.02" fill="#c8e040" stroke="#fff" stroke-width="0.3"/><rect x="93.85" y="141.89" width="4.75" height="4.23" rx="1.02" fill="#6ac050" stroke="#fff" stroke-width="0.3"/><rect x="88.5" y="146.05" width="7.51" height="7.33" rx="1.76" fill="#5a3ab0" stroke="#fff" stroke-width="0.3"/><rect x="95.41" y="146.05" width="5.27" height="7.33" rx="1.27" fill="#a0d8e8" stroke="#fff" stroke-width="0.3"/><rect x="100.08" y="146.05" width="10.47" height="7.33" rx="1.76" fill="#4a60c0" stroke="#fff" stroke-width="0.3"/><rect x="109.95" y="108.5" width="9.43" height="5.43" rx="1.3" fill="#a050b0" stroke="#fff" stroke-width="0.3"/><rect x="119.3" y="108.5" width="11.5" height="4.92" rx="1.18" fill="#e8902a" stroke="#fff" stroke-width="0.3"/><rect x="130.72" y="108.5" width="9.43" height="4.92" rx="1.18" fill="#4a5ab8" stroke="#fff" stroke-width="0.3"/><rect x="139.55" y="108.5" width="5.95" height="11.15" rx="1.43" fill="#b09050" stroke="#fff" stroke-width="0.3"/><rect x="109.95" y="113.85" width="9.95" height="8.91" rx="2.67" fill="#a01a4a" stroke="#fff" stroke-width="0.3"/><rect x="119.3" y="112.82" width="12.02" height="9.43" rx="2.83" fill="#5a3aa0" stroke="#fff" stroke-width="0.3"/><rect x="130.72" y="112.82" width="9.43" height="9.95" rx="2.83" fill="#a0d8d0" stroke="#fff" stroke-width="0.3"/><rect x="109.95" y="122.16" width="12.54" height="7.87" rx="1.89" fill="#4a70d0" stroke="#fff" stroke-width="0.3"/><rect x="121.89" y="121.64" width="18.25" height="7.35" rx="1.76" fill="#a8e0e8" stroke="#fff" stroke-width="0.3"/><rect x="140.07" y="119.57" width="5.43" height="26.04" rx="1.3" fill="#f04040" stroke="#fff" stroke-width="0.3"/><rect x="109.95" y="129.95" width="12.54" height="16.7" rx="3.76" fill="#f8a080" stroke="#fff" stroke-width="0.3"/><rect x="121.89" y="128.39" width="7.35" height="18.25" rx="1.76" fill="#70c050" stroke="#fff" stroke-width="0.3"/><rect x="128.64" y="128.39" width="11.5" height="18.25" rx="3.45" fill="#1a4a2a" stroke="#fff" stroke-width="0.3"/><rect x="109.95" y="146.05" width="5.01" height="8.37" rx="1.2" fill="#7a7a40" stroke="#fff" stroke-width="0.3"/><rect x="114.36" y="146.05" width="7.09" height="8.37" rx="1.7" fill="#9a40b0" stroke="#fff" stroke-width="0.3"/><rect x="120.85" y="146.05" width="7.35" height="7.85" rx="1.76" fill="#e870a0" stroke="#fff" stroke-width="0.3"/><rect x="127.6" y="146.05" width="12.54" height="7.85" rx="1.88" fill="#a0d8e8" stroke="#fff" stroke-width="0.3"/><rect x="140.07" y="145.53" width="5.43" height="6.99" rx="1.3" fill="#8aa060" stroke="#fff" stroke-width="0.3"/><rect x="142.5" y="108.5" width="3.88" height="11.15" rx="0.93" fill="#8aa060" stroke="#fff" stroke-width="0.3"/><rect x="145.78" y="108.5" width="15.66" height="11.67" rx="3.5" fill="#70d0a8" stroke="#fff" stroke-width="0.3"/><rect x="161.35" y="108.5" width="11.5" height="4.92" rx="1.18" fill="#8ad060" stroke="#fff" stroke-width="0.3"/><rect x="172.78" y="108.5" width="13.58" height="5.43" rx="1.3" fill="#c83aa0" stroke="#fff" stroke-width="0.3"/><rect x="186.28" y="108.5" width="9.43" height="12.7" rx="2.83" fill="#6a5020" stroke="#fff" stroke-width="0.3"/><rect x="195.1" y="108.5" width="4.4" height="8.03" rx="1.06" fill="#d02a2a" stroke="#fff" stroke-width="0.3"/><rect x="161.35" y="113.33" width="11.5" height="9.43" rx="2.83" fill="#e02a80" stroke="#fff" stroke-width="0.3"/><rect x="172.78" y="113.85" width="13.58" height="8.91" rx="2.67" fill="#e0a030" stroke="#fff" stroke-width="0.3"/><rect x="142.5" y="120.08" width="6.99" height="25.52" rx="1.68" fill="#f03030" stroke="#fff" stroke-width="0.3"/><rect x="148.89" y="120.08" width="12.54" height="25.52" rx="3.76" fill="#d84028" stroke="#fff" stroke-width="0.3"/><rect x="161.35" y="122.16" width="7.35" height="23.45" rx="1.76" fill="#4a70d0" stroke="#fff" stroke-width="0.3"/><rect x="168.1" y="122.68" width="18.25" height="9.43" rx="2.83" fill="#f05050" stroke="#fff" stroke-width="0.3"/><rect x="186.28" y="121.12" width="8.39" height="11.5" rx="2.52" fill="#50c040" stroke="#fff" stroke-width="0.3"/><rect x="194.07" y="121.12" width="5.43" height="5.27" rx="1.27" fill="#2a7a3a" stroke="#fff" stroke-width="0.3"/><rect x="194.07" y="125.8" width="5.43" height="6.83" rx="1.3" fill="#e8902a" stroke="#fff" stroke-width="0.3"/><rect x="168.1" y="131.51" width="18.25" height="14.1" rx="4.23" fill="#2a9ae0" stroke="#fff" stroke-width="0.3"/><rect x="186.28" y="132.03" width="13.58" height="12.8" rx="3.84" fill="#c0a0e0" stroke="#fff" stroke-width="0.3"/><rect x="142.5" y="145.53" width="3.88" height="6.99" rx="0.93" fill="#90a060" stroke="#fff" stroke-width="0.3"/><rect x="145.52" y="145.53" width="9.17" height="10.45" rx="2.75" fill="#e8a060" stroke="#fff" stroke-width="0.3"/><rect x="154.08" y="145.53" width="6.83" height="6.99" rx="1.64" fill="#90d8b0" stroke="#fff" stroke-width="0.3"/><rect x="160.32" y="145.53" width="14.1" height="10.45" rx="3.13" fill="#4040b0" stroke="#fff" stroke-width="0.3"/><rect x="173.82" y="145.53" width="4.75" height="6.99" rx="1.14" fill="#c080e0" stroke="#fff" stroke-width="0.3"/><rect x="177.97" y="145.53" width="8.91" height="2.68" rx="0.64" fill="#3a8a3a" stroke="#fff" stroke-width="0.3"/><rect x="174.85" y="147.6" width="12.02" height="4.92" rx="1.18" fill="#e8e890" stroke="#fff" stroke-width="0.3"/><rect x="186.28" y="145.01" width="22.41" height="3.46" rx="0.83" fill="#7a2a90" stroke="#fff" stroke-width="0.3"/><rect x="186.28" y="147.86" width="22.41" height="4.66" rx="1.12" fill="#5a8a3a" stroke="#fff" stroke-width="0.3"/><rect x="196.5" y="108.5" width="17.38" height="6.47" rx="1.55" fill="#d82a30" stroke="#fff" stroke-width="0.3"/><rect x="196.5" y="114.37" width="17.38" height="6.83" rx="1.64" fill="#d88070" stroke="#fff" stroke-width="0.3"/><rect x="196.5" y="121.12" width="16.34" height="5.27" rx="1.27" fill="#1a7a40" stroke="#fff" stroke-width="0.3"/><rect x="196.5" y="126.32" width="16.34" height="5.79" rx="1.39" fill="#e87a2a" stroke="#fff" stroke-width="0.3"/><rect x="199.26" y="132.03" width="13.58" height="12.54" rx="3.76" fill="#f09090" stroke="#fff" stroke-width="0.3"/><rect x="213.28" y="108.5" width="17.73" height="12.7" rx="3.81" fill="#b8a898" stroke="#fff" stroke-width="0.3"/><rect x="230.93" y="108.5" width="20.87" height="12.7" rx="3.81" fill="#5a6028" stroke="#fff" stroke-width="0.3"/><rect x="213.28" y="121.12" width="16.18" height="10.98" rx="3.3" fill="#909888" stroke="#fff" stroke-width="0.3"/><rect x="228.85" y="121.12" width="22.95" height="10.98" rx="3.3" fill="#30b860" stroke="#fff" stroke-width="0.3"/><rect x="212.24" y="132.03" width="18.25" height="13.06" rx="3.92" fill="#b8e0c8" stroke="#fff" stroke-width="0.3"/><rect x="230.93" y="132.03" width="20.87" height="13.06" rx="3.92" fill="#4a8a68" stroke="#fff" stroke-width="0.3"/><rect x="208.08" y="145.01" width="21.89" height="7.33" rx="1.76" fill="#d0e890" stroke="#fff" stroke-width="0.3"/><rect x="229.89" y="145.01" width="21.91" height="7.33" rx="1.76" fill="#8a8a98" stroke="#fff" stroke-width="0.3"/><rect x="58.55" y="149.5" width="3.2" height="14.26" rx="0.77" fill="#d02a50" stroke="#fff" stroke-width="0.3"/><rect x="61.14" y="149.5" width="4.23" height="14.26" rx="1.02" fill="#2a6a2a" stroke="#fff" stroke-width="0.3"/><rect x="65.3" y="149.5" width="5.27" height="7.51" rx="1.27" fill="#d040a0" stroke="#fff" stroke-width="0.3"/><rect x="68.93" y="149.5" width="13.06" height="4.92" rx="1.18" fill="#d02a2a" stroke="#fff" stroke-width="0.3"/><rect x="36.74" y="155.37" width="10.47" height="11.5" rx="3.14" fill="#b85028" stroke="#fff" stroke-width="0.3"/><rect x="47.12" y="155.89" width="11.5" height="10.98" rx="3.3" fill="#2aa050" stroke="#fff" stroke-width="0.3"/><rect x="65.3" y="156.93" width="6.31" height="6.83" rx="1.51" fill="#5070d0" stroke="#fff" stroke-width="0.3"/><rect x="71.53" y="154.33" width="10.98" height="9.43" rx="2.83" fill="#4a1028" stroke="#fff" stroke-width="0.3"/><rect x="82.43" y="155.37" width="5.79" height="7.35" rx="1.39" fill="#90c050" stroke="#fff" stroke-width="0.3"/><rect x="87.62" y="155.37" width="3.88" height="7.35" rx="0.93" fill="#6ac050" stroke="#fff" stroke-width="0.3"/><rect x="36.74" y="166.8" width="9.95" height="9.95" rx="2.98" fill="#f0e0d8" stroke="#fff" stroke-width="0.3"/><rect x="46.08" y="166.28" width="12.54" height="4.23" rx="1.02" fill="#e02a3a" stroke="#fff" stroke-width="0.3"/><rect x="59.58" y="163.16" width="12.02" height="7.35" rx="1.76" fill="#4a50c0" stroke="#fff" stroke-width="0.3"/><rect x="71.01" y="163.16" width="5.27" height="9.95" rx="1.27" fill="#90a8a0" stroke="#fff" stroke-width="0.3"/><rect x="75.68" y="163.16" width="6.31" height="9.95" rx="1.51" fill="#7a80b0" stroke="#fff" stroke-width="0.3"/><rect x="82.43" y="162.12" width="3.72" height="9.95" rx="0.89" fill="#3a9a4a" stroke="#fff" stroke-width="0.3"/><rect x="85.55" y="162.12" width="5.95" height="9.95" rx="1.43" fill="#c0a0d0" stroke="#fff" stroke-width="0.3"/><rect x="46.08" y="169.91" width="6.31" height="21.29" rx="1.51" fill="#a050b8" stroke="#fff" stroke-width="0.3"/><rect x="51.8" y="169.91" width="6.83" height="21.29" rx="1.64" fill="#d07a3a" stroke="#fff" stroke-width="0.3"/><rect x="59.58" y="169.91" width="10.98" height="7.87" rx="1.89" fill="#9a2a9a" stroke="#fff" stroke-width="0.3"/><rect x="58.55" y="177.18" width="6.83" height="14.02" rx="1.64" fill="#2ab04a" stroke="#fff" stroke-width="0.3"/><rect x="64.78" y="177.18" width="5.79" height="14.02" rx="1.39" fill="#30b050" stroke="#fff" stroke-width="0.3"/><rect x="69.97" y="172.51" width="6.31" height="18.69" rx="1.51" fill="#70c890" stroke="#fff" stroke-width="0.3"/><rect x="75.68" y="172.51" width="6.83" height="18.69" rx="1.64" fill="#70c8e0" stroke="#fff" stroke-width="0.3"/><rect x="82.43" y="171.47" width="3.72" height="6.83" rx="0.89" fill="#e060b0" stroke="#fff" stroke-width="0.3"/><rect x="85.55" y="171.47" width="5.95" height="8.91" rx="1.43" fill="#e8902a" stroke="#fff" stroke-width="0.3"/><rect x="82.43" y="177.7" width="3.72" height="6.83" rx="0.89" fill="#7ad080" stroke="#fff" stroke-width="0.3"/><rect x="82.43" y="183.93" width="3.72" height="7.27" rx="0.89" fill="#1a7a3a" stroke="#fff" stroke-width="0.3"/><rect x="85.55" y="179.78" width="5.95" height="11.42" rx="1.43" fill="#7a4ab0" stroke="#fff" stroke-width="0.3"/><rect x="36.74" y="176.66" width="9.95" height="14.54" rx="2.98" fill="#d81a6a" stroke="#fff" stroke-width="0.3"/><rect x="88.5" y="152.78" width="6.47" height="14.1" rx="1.55" fill="#50b050" stroke="#fff" stroke-width="0.3"/><rect x="94.37" y="153.3" width="8.39" height="4.23" rx="1.02" fill="#4a8a7a" stroke="#fff" stroke-width="0.3"/><rect x="94.37" y="156.93" width="8.39" height="9.43" rx="2.52" fill="#a0a8b8" stroke="#fff" stroke-width="0.3"/><rect x="102.16" y="153.3" width="8.39" height="9.95" rx="2.52" fill="#d0b0e0" stroke="#fff" stroke-width="0.3"/><rect x="102.16" y="162.64" width="8.39" height="4.23" rx="1.02" fill="#70d0e0" stroke="#fff" stroke-width="0.3"/><rect x="109.95" y="153.82" width="11.5" height="7.87" rx="1.89" fill="#a048b0" stroke="#fff" stroke-width="0.3"/><rect x="120.85" y="153.82" width="19.29" height="7.87" rx="1.89" fill="#e83050" stroke="#fff" stroke-width="0.3"/><rect x="139.55" y="152.78" width="5.95" height="14.1" rx="1.43" fill="#d06090" stroke="#fff" stroke-width="0.3"/><rect x="109.95" y="161.08" width="6.31" height="12.02" rx="1.51" fill="#d08a60" stroke="#fff" stroke-width="0.3"/><rect x="115.66" y="161.08" width="7.35" height="12.02" rx="1.76" fill="#1a1a48" stroke="#fff" stroke-width="0.3"/><rect x="122.41" y="161.08" width="5.27" height="7.35" rx="1.27" fill="#4a80d0" stroke="#fff" stroke-width="0.3"/><rect x="127.08" y="161.08" width="13.06" height="7.35" rx="1.76" fill="#b82a9a" stroke="#fff" stroke-width="0.3"/><rect x="88.5" y="166.28" width="4.92" height="6.83" rx="1.18" fill="#d060b0" stroke="#fff" stroke-width="0.3"/><rect x="92.82" y="166.28" width="3.72" height="5.79" rx="0.89" fill="#c04aa0" stroke="#fff" stroke-width="0.3"/><rect x="95.93" y="166.28" width="3.72" height="5.79" rx="0.89" fill="#8a2a5a" stroke="#fff" stroke-width="0.3"/><rect x="99.05" y="166.28" width="11.5" height="4.23" rx="1.02" fill="#6ac050" stroke="#fff" stroke-width="0.3"/><rect x="99.05" y="169.91" width="11.5" height="7.35" rx="1.76" fill="#30a888" stroke="#fff" stroke-width="0.3"/><rect x="122.41" y="167.83" width="5.27" height="7.35" rx="1.27" fill="#60c0b0" stroke="#fff" stroke-width="0.3"/><rect x="127.08" y="167.83" width="13.06" height="7.87" rx="1.89" fill="#50c050" stroke="#fff" stroke-width="0.3"/><rect x="139.55" y="166.28" width="5.95" height="24.92" rx="1.43" fill="#a0b050" stroke="#fff" stroke-width="0.3"/><rect x="88.5" y="172.51" width="5.43" height="9.95" rx="1.3" fill="#e8602a" stroke="#fff" stroke-width="0.3"/><rect x="93.33" y="171.47" width="6.31" height="6.83" rx="1.51" fill="#3a8a3a" stroke="#fff" stroke-width="0.3"/><rect x="93.33" y="177.7" width="6.31" height="4.75" rx="1.14" fill="#b0a040" stroke="#fff" stroke-width="0.3"/><rect x="99.05" y="177.18" width="11.5" height="6.31" rx="1.51" fill="#e8a030" stroke="#fff" stroke-width="0.3"/><rect x="109.95" y="172.51" width="13.06" height="18.69" rx="3.92" fill="#a8e0f0" stroke="#fff" stroke-width="0.3"/><rect x="122.41" y="175.1" width="7.87" height="16.1" rx="1.89" fill="#e82a2a" stroke="#fff" stroke-width="0.3"/><rect x="129.68" y="175.1" width="10.47" height="16.1" rx="3.14" fill="#e0802a" stroke="#fff" stroke-width="0.3"/><rect x="88.5" y="181.85" width="5.43" height="9.35" rx="1.3" fill="#7a4ab0" stroke="#fff" stroke-width="0.3"/><rect x="93.33" y="181.85" width="6.31" height="9.35" rx="1.51" fill="#3a6a40" stroke="#fff" stroke-width="0.3"/><rect x="99.05" y="183.41" width="11.5" height="7.79" rx="1.87" fill="#3a70c8" stroke="#fff" stroke-width="0.3"/><rect x="142.5" y="149.5" width="3.36" height="17.38" rx="0.81" fill="#e070a0" stroke="#fff" stroke-width="0.3"/><rect x="145.26" y="155.37" width="9.43" height="12.02" rx="2.83" fill="#30b890" stroke="#fff" stroke-width="0.3"/><rect x="154.08" y="149.5" width="6.31" height="18.42" rx="1.51" fill="#90d8a0" stroke="#fff" stroke-width="0.3"/><rect x="160.32" y="155.89" width="14.1" height="11.5" rx="3.45" fill="#e0802a" stroke="#fff" stroke-width="0.3"/><rect x="174.33" y="149.5" width="15.66" height="3.36" rx="0.81" fill="#e8e890" stroke="#fff" stroke-width="0.3"/><rect x="174.33" y="152.26" width="15.66" height="6.83" rx="1.64" fill="#e84a90" stroke="#fff" stroke-width="0.3"/><rect x="189.39" y="149.5" width="19.29" height="2.84" rx="0.68" fill="#5a8a3a" stroke="#fff" stroke-width="0.3"/><rect x="189.91" y="151.74" width="18.77" height="7.09" rx="1.7" fill="#1a8a90" stroke="#fff" stroke-width="0.3"/><rect x="174.33" y="159.01" width="15.66" height="6.83" rx="1.64" fill="#80d8e0" stroke="#fff" stroke-width="0.3"/><rect x="189.91" y="159.01" width="9.59" height="6.83" rx="1.64" fill="#d0d0e8" stroke="#fff" stroke-width="0.3"/><rect x="174.33" y="165.76" width="15.66" height="4.75" rx="1.14" fill="#e860a0" stroke="#fff" stroke-width="0.3"/><rect x="189.91" y="165.76" width="18.77" height="5.01" rx="1.2" fill="#e08080" stroke="#fff" stroke-width="0.3"/><rect x="174.33" y="169.91" width="15.66" height="6.83" rx="1.64" fill="#3a90d8" stroke="#fff" stroke-width="0.3"/><rect x="189.91" y="170.17" width="18.77" height="6.57" rx="1.58" fill="#8ad050" stroke="#fff" stroke-width="0.3"/><rect x="174.33" y="176.14" width="15.66" height="6.83" rx="1.64" fill="#d05a7a" stroke="#fff" stroke-width="0.3"/><rect x="189.91" y="176.14" width="9.59" height="6.83" rx="1.64" fill="#d8e880" stroke="#fff" stroke-width="0.3"/><rect x="174.33" y="182.89" width="15.66" height="8.31" rx="2.49" fill="#9a3ab0" stroke="#fff" stroke-width="0.3"/><rect x="189.91" y="183.15" width="18.77" height="8.05" rx="2.41" fill="#a0603a" stroke="#fff" stroke-width="0.3"/><rect x="142.5" y="167.32" width="12.18" height="12.02" rx="3.61" fill="#a0d060" stroke="#fff" stroke-width="0.3"/><rect x="154.08" y="167.32" width="9.43" height="23.88" rx="2.83" fill="#a0d040" stroke="#fff" stroke-width="0.3"/><rect x="163.43" y="167.32" width="10.98" height="23.88" rx="3.3" fill="#0e3a2a" stroke="#fff" stroke-width="0.3"/><rect x="142.5" y="178.74" width="12.18" height="12.46" rx="3.66" fill="#70a8a0" stroke="#fff" stroke-width="0.3"/><rect x="196.5" y="158.49" width="12.18" height="7.35" rx="1.76" fill="#d0d8f0" stroke="#fff" stroke-width="0.3"/><rect x="196.5" y="176.14" width="12.18" height="7.35" rx="1.76" fill="#d0e880" stroke="#fff" stroke-width="0.3"/><rect x="208.08" y="151.74" width="13.58" height="14.1" rx="4.07" fill="#d060b0" stroke="#fff" stroke-width="0.3"/><rect x="221.58" y="152.26" width="30.22" height="5.79" rx="1.39" fill="#e8a0c8" stroke="#fff" stroke-width="0.3"/><rect x="221.58" y="157.97" width="30.22" height="7.87" rx="1.89" fill="#70c0e0" stroke="#fff" stroke-width="0.3"/><rect x="208.08" y="165.76" width="14.1" height="11.5" rx="3.45" fill="#c82a2a" stroke="#fff" stroke-width="0.3"/><rect x="221.58" y="165.76" width="30.22" height="5.79" rx="1.39" fill="#909090" stroke="#fff" stroke-width="0.3"/><rect x="221.58" y="170.95" width="30.22" height="6.31" rx="1.51" fill="#b8e0f0" stroke="#fff" stroke-width="0.3"/><rect x="208.08" y="177.18" width="21.37" height="14.02" rx="4.21" fill="#28b0d0" stroke="#fff" stroke-width="0.3"/><rect x="228.85" y="177.18" width="22.95" height="14.02" rx="4.21" fill="#30b050" stroke="#fff" stroke-width="0.3"/><rect x="258.3" y="32.7" width="7.31" height="7.95" rx="1.75" fill="#3ab04a" stroke="#fff" stroke-width="0.3"/><rect x="265.01" y="32.7" width="5.79" height="7.95" rx="1.39" fill="#4a9a6a" stroke="#fff" stroke-width="0.3"/><rect x="270.2" y="32.7" width="4.75" height="3.79" rx="0.91" fill="#e82a2a" stroke="#fff" stroke-width="0.3"/><rect x="270.2" y="35.89" width="8.91" height="4.75" rx="1.14" fill="#a8d040" stroke="#fff" stroke-width="0.3"/><rect x="278.51" y="32.7" width="8.91" height="5.35" rx="1.28" fill="#8a3aa0" stroke="#fff" stroke-width="0.3"/><rect x="278.51" y="37.45" width="8.91" height="3.2" rx="0.77" fill="#6a3a8a" stroke="#fff" stroke-width="0.3"/><rect x="287.33" y="32.7" width="4.75" height="3.79" rx="0.91" fill="#3a8a4a" stroke="#fff" stroke-width="0.3"/><rect x="291.49" y="32.7" width="10.47" height="3.27" rx="0.79" fill="#c090e0" stroke="#fff" stroke-width="0.3"/><rect x="291.49" y="35.37" width="10.47" height="2.16" rx="0.52" fill="#70c8e8" stroke="#fff" stroke-width="0.3"/><rect x="287.85" y="36.41" width="6.31" height="5.79" rx="1.39" fill="#8a3ab0" stroke="#fff" stroke-width="0.3"/><rect x="293.57" y="36.93" width="8.91" height="10.98" rx="2.67" fill="#4a6a2a" stroke="#fff" stroke-width="0.3"/><rect x="287.85" y="41.6" width="6.31" height="6.83" rx="1.51" fill="#30c0c0" stroke="#fff" stroke-width="0.3"/><rect x="301.87" y="32.7" width="12.02" height="28.97" rx="3.61" fill="#c84aa8" stroke="#fff" stroke-width="0.3"/><rect x="258.3" y="40.57" width="7.31" height="7.87" rx="1.75" fill="#c0a030" stroke="#fff" stroke-width="0.3"/><rect x="265.01" y="40.57" width="10.98" height="8.91" rx="2.67" fill="#6a1020" stroke="#fff" stroke-width="0.3"/><rect x="275.39" y="39.01" width="4.75" height="9.43" rx="1.14" fill="#a01a40" stroke="#fff" stroke-width="0.3"/><rect x="279.55" y="39.01" width="8.91" height="9.43" rx="2.67" fill="#5ac050" stroke="#fff" stroke-width="0.3"/><rect x="258.3" y="48.35" width="8.35" height="3.2" rx="0.77" fill="#70b8e0" stroke="#fff" stroke-width="0.3"/><rect x="266.05" y="48.35" width="9.95" height="3.72" rx="0.89" fill="#8a2a6a" stroke="#fff" stroke-width="0.3"/><rect x="275.39" y="47.83" width="13.06" height="4.75" rx="1.14" fill="#8a80c8" stroke="#fff" stroke-width="0.3"/><rect x="287.33" y="47.83" width="15.14" height="6.83" rx="1.64" fill="#e04a70" stroke="#fff" stroke-width="0.3"/><rect x="258.3" y="51.47" width="3.67" height="14.62" rx="0.88" fill="#f0902a" stroke="#fff" stroke-width="0.3"/><rect x="261.37" y="51.47" width="5.27" height="5.27" rx="1.27" fill="#e870b0" stroke="#fff" stroke-width="0.3"/><rect x="266.05" y="51.99" width="3.72" height="14.1" rx="0.89" fill="#c0a060" stroke="#fff" stroke-width="0.3"/><rect x="261.89" y="56.14" width="4.75" height="9.95" rx="1.14" fill="#5050c0" stroke="#fff" stroke-width="0.3"/><rect x="267.08" y="55.1" width="5.79" height="10.98" rx="1.39" fill="#6050c0" stroke="#fff" stroke-width="0.3"/><rect x="272.28" y="53.03" width="3.72" height="13.06" rx="0.89" fill="#c05030" stroke="#fff" stroke-width="0.3"/><rect x="275.39" y="52.51" width="12.02" height="13.06" rx="3.61" fill="#2aa050" stroke="#fff" stroke-width="0.3"/><rect x="287.33" y="54.58" width="15.14" height="10.98" rx="3.3" fill="#e8e830" stroke="#fff" stroke-width="0.3"/><rect x="301.61" y="61.33" width="10.89" height="24.47" rx="3.27" fill="#a8d070" stroke="#fff" stroke-width="0.3"/><rect x="258.3" y="66.01" width="15.62" height="19.79" rx="4.68" fill="#6ac050" stroke="#fff" stroke-width="0.3"/><rect x="273.83" y="65.49" width="28.12" height="5.27" rx="1.27" fill="#5a7a5a" stroke="#fff" stroke-width="0.3"/><rect x="273.83" y="70.16" width="28.12" height="3.36" rx="0.81" fill="#6a6a9a" stroke="#fff" stroke-width="0.3"/><rect x="313.3" y="32.7" width="12.02" height="28.72" rx="3.61" fill="#c05a80" stroke="#fff" stroke-width="0.3"/><rect x="325.24" y="32.7" width="9.43" height="9.5" rx="2.83" fill="#50b8e8" stroke="#fff" stroke-width="0.3"/><rect x="334.58" y="32.7" width="16.18" height="9.5" rx="2.85" fill="#3a50b0" stroke="#fff" stroke-width="0.3"/><rect x="350.68" y="32.7" width="42.66" height="13.14" rx="3.94" fill="#e07a98" stroke="#fff" stroke-width="0.3"/><rect x="325.24" y="42.12" width="25.52" height="6.83" rx="1.64" fill="#6a8a3a" stroke="#fff" stroke-width="0.3"/><rect x="325.24" y="49.39" width="25.52" height="11.5" rx="3.45" fill="#a870a8" stroke="#fff" stroke-width="0.3"/><rect x="350.68" y="45.76" width="43.18" height="14.88" rx="4.46" fill="#60c070" stroke="#fff" stroke-width="0.3"/><rect x="309.5" y="60.82" width="3.36" height="12.7" rx="0.81" fill="#a8d060" stroke="#fff" stroke-width="0.3"/><rect x="312.26" y="60.82" width="4.75" height="49.91" rx="1.14" fill="#7a3aa0" stroke="#fff" stroke-width="0.3"/><rect x="316.41" y="60.82" width="8.39" height="24.98" rx="2.52" fill="#e04a70" stroke="#fff" stroke-width="0.3"/><rect x="324.72" y="60.82" width="26.04" height="9.43" rx="2.83" fill="#6a5ab8" stroke="#fff" stroke-width="0.3"/><rect x="326.28" y="69.64" width="10.98" height="3.88" rx="0.93" fill="#c04020" stroke="#fff" stroke-width="0.3"/><rect x="336.66" y="69.64" width="14.1" height="3.88" rx="0.93" fill="#f07a70" stroke="#fff" stroke-width="0.3"/><rect x="350.68" y="60.82" width="15.82" height="24.98" rx="4.75" fill="#3a88d0" stroke="#fff" stroke-width="0.3"/><rect x="393.26" y="32.7" width="75.54" height="10.54" rx="3.16" fill="#98c840" stroke="#fff" stroke-width="0.3"/><rect x="393.78" y="43.16" width="4.75" height="17.22" rx="1.14" fill="#30b8d0" stroke="#fff" stroke-width="0.3"/><rect x="397.93" y="43.16" width="70.87" height="17.22" rx="5.16" fill="#1e3e1e" stroke="#fff" stroke-width="0.3"/><rect x="363.5" y="60.3" width="14.26" height="13.22" rx="3.97" fill="#c89030" stroke="#fff" stroke-width="0.3"/><rect x="377.16" y="60.3" width="20.07" height="24.98" rx="6" fill="#78a040" stroke="#fff" stroke-width="0.3"/><rect x="397.41" y="60.3" width="28.12" height="9.17" rx="2.75" fill="#5088c8" stroke="#fff" stroke-width="0.3"/><rect x="398.97" y="69.12" width="21.53" height="4.4" rx="1.06" fill="#9a50b0" stroke="#fff" stroke-width="0.3"/><rect x="425.45" y="60.3" width="43.35" height="8.91" rx="2.67" fill="#e0aaa8" stroke="#fff" stroke-width="0.3"/><rect x="420.78" y="69.12" width="48.02" height="4.4" rx="1.06" fill="#98b088" stroke="#fff" stroke-width="0.3"/><rect x="273.83" y="70.5" width="28.12" height="8.03" rx="2.41" fill="#7a50b0" stroke="#fff" stroke-width="0.3"/><rect x="273.83" y="77.93" width="3.72" height="7.87" rx="0.89" fill="#e0e0a0" stroke="#fff" stroke-width="0.3"/><rect x="276.95" y="78.45" width="9.95" height="2.16" rx="0.52" fill="#f07a30" stroke="#fff" stroke-width="0.3"/><rect x="276.95" y="80.01" width="9.95" height="3.2" rx="0.77" fill="#50c060" stroke="#fff" stroke-width="0.3"/><rect x="286.3" y="78.45" width="15.66" height="7.35" rx="1.76" fill="#b0d840" stroke="#fff" stroke-width="0.3"/><rect x="258.3" y="85.72" width="6.27" height="25" rx="1.5" fill="#5a40a8" stroke="#fff" stroke-width="0.3"/><rect x="264.49" y="85.72" width="9.43" height="25" rx="2.83" fill="#e85050" stroke="#fff" stroke-width="0.3"/><rect x="273.32" y="85.72" width="4.23" height="7.35" rx="1.02" fill="#3a3aa8" stroke="#fff" stroke-width="0.3"/><rect x="273.32" y="92.47" width="4.23" height="8.91" rx="1.02" fill="#c86a6a" stroke="#fff" stroke-width="0.3"/><rect x="276.95" y="83.12" width="5.27" height="4.75" rx="1.14" fill="#6a60c8" stroke="#fff" stroke-width="0.3"/><rect x="281.62" y="83.12" width="5.27" height="5.79" rx="1.27" fill="#d860a0" stroke="#fff" stroke-width="0.3"/><rect x="276.95" y="87.28" width="5.27" height="5.79" rx="1.27" fill="#c8a030" stroke="#fff" stroke-width="0.3"/><rect x="276.95" y="92.47" width="3.2" height="8.91" rx="0.77" fill="#f07a20" stroke="#fff" stroke-width="0.3"/><rect x="279.55" y="92.47" width="2.68" height="8.91" rx="0.64" fill="#8ab040" stroke="#fff" stroke-width="0.3"/><rect x="281.62" y="88.32" width="5.27" height="4.75" rx="1.14" fill="#8a1a20" stroke="#fff" stroke-width="0.3"/><rect x="281.62" y="92.47" width="5.27" height="6.83" rx="1.27" fill="#6a3aa8" stroke="#fff" stroke-width="0.3"/><rect x="273.32" y="100.78" width="7.87" height="9.95" rx="1.89" fill="#6a50c0" stroke="#fff" stroke-width="0.3"/><rect x="280.58" y="98.7" width="6.83" height="12.02" rx="1.64" fill="#a85a30" stroke="#fff" stroke-width="0.3"/><rect x="286.82" y="85.72" width="5.79" height="25" rx="1.39" fill="#3a6a40" stroke="#fff" stroke-width="0.3"/><rect x="292.01" y="85.72" width="9.95" height="7.87" rx="1.89" fill="#40b070" stroke="#fff" stroke-width="0.3"/><rect x="292.01" y="92.99" width="9.95" height="17.73" rx="2.98" fill="#b070c0" stroke="#fff" stroke-width="0.3"/><rect x="301.35" y="85.2" width="11.15" height="25.52" rx="3.34" fill="#b860b0" stroke="#fff" stroke-width="0.3"/><rect x="258.3" y="110.64" width="6.27" height="3.88" rx="0.93" fill="#1a3a1a" stroke="#fff" stroke-width="0.3"/><rect x="267.08" y="110.64" width="27.6" height="3.88" rx="0.93" fill="#7a50b0" stroke="#fff" stroke-width="0.3"/><rect x="296.16" y="110.64" width="16.34" height="3.88" rx="0.93" fill="#3a70c0" stroke="#fff" stroke-width="0.3"/><rect x="309.5" y="70.5" width="3.36" height="40.22" rx="0.81" fill="#b860b0" stroke="#fff" stroke-width="0.3"/><rect x="324.72" y="70.5" width="14.62" height="15.3" rx="4.39" fill="#c84020" stroke="#fff" stroke-width="0.3"/><rect x="339.26" y="70.5" width="11.5" height="15.3" rx="3.45" fill="#f07a70" stroke="#fff" stroke-width="0.3"/><rect x="316.41" y="85.72" width="8.39" height="25" rx="2.52" fill="#d8e030" stroke="#fff" stroke-width="0.3"/><rect x="324.72" y="85.72" width="26.04" height="8.91" rx="2.67" fill="#a050b0" stroke="#fff" stroke-width="0.3"/><rect x="324.72" y="94.55" width="9.95" height="16.18" rx="2.98" fill="#3a7ac8" stroke="#fff" stroke-width="0.3"/><rect x="334.07" y="94.55" width="16.7" height="16.18" rx="4.85" fill="#6ab8e0" stroke="#fff" stroke-width="0.3"/><rect x="350.68" y="85.72" width="15.82" height="31.73" rx="4.75" fill="#3a80b0" stroke="#fff" stroke-width="0.3"/><rect x="312.78" y="110.64" width="37.98" height="3.88" rx="0.93" fill="#7a8a3a" stroke="#fff" stroke-width="0.3"/><rect x="363.5" y="70.5" width="14.26" height="14.78" rx="4.28" fill="#c89830" stroke="#fff" stroke-width="0.3"/><rect x="396.89" y="70.5" width="23.61" height="22.57" rx="6" fill="#8a5aa8" stroke="#fff" stroke-width="0.3"/><rect x="363.5" y="85.2" width="14.26" height="31.22" rx="4.28" fill="#8a7a5a" stroke="#fff" stroke-width="0.3"/><rect x="377.94" y="85.2" width="19.29" height="31.22" rx="5.79" fill="#b86070" stroke="#fff" stroke-width="0.3"/><rect x="396.89" y="92.47" width="3.72" height="3.72" rx="0.89" fill="#8a1a1a" stroke="#fff" stroke-width="0.3"/><rect x="400.01" y="92.99" width="14.1" height="3.2" rx="0.77" fill="#f8d8c0" stroke="#fff" stroke-width="0.3"/><rect x="396.89" y="95.58" width="16.18" height="32.25" rx="4.85" fill="#9a90c8" stroke="#fff" stroke-width="0.3"/><rect x="412.47" y="92.99" width="16.7" height="34.85" rx="5.01" fill="#80c0c0" stroke="#fff" stroke-width="0.3"/><rect x="417.5" y="70.5" width="2.84" height="18.42" rx="0.68" fill="#8a5aa8" stroke="#fff" stroke-width="0.3"/><rect x="419.74" y="70.5" width="48.89" height="10.63" rx="3.19" fill="#98b080" stroke="#fff" stroke-width="0.3"/><rect x="419.74" y="81.05" width="48.89" height="12.02" rx="3.61" fill="#1a9488" stroke="#fff" stroke-width="0.3"/><rect x="429.08" y="92.99" width="10.47" height="33.81" rx="3.14" fill="#2a6a3a" stroke="#fff" stroke-width="0.3"/><rect x="439.47" y="92.99" width="29.16" height="16.18" rx="4.85" fill="#7878b8" stroke="#fff" stroke-width="0.3"/><rect x="439.99" y="109.08" width="28.64" height="5.43" rx="1.3" fill="#2a0e14" stroke="#fff" stroke-width="0.3"/><rect x="258.3" y="111.5" width="7.83" height="11.15" rx="1.88" fill="#3a5a20" stroke="#fff" stroke-width="0.3"/><rect x="266.57" y="111.5" width="29.68" height="12.18" rx="3.66" fill="#7a40b0" stroke="#fff" stroke-width="0.3"/><rect x="296.16" y="111.5" width="7.87" height="10.11" rx="1.89" fill="#d0c8b0" stroke="#fff" stroke-width="0.3"/><rect x="303.43" y="111.5" width="10.47" height="10.11" rx="3.03" fill="#c8e070" stroke="#fff" stroke-width="0.3"/><rect x="296.16" y="121.53" width="7.87" height="5.27" rx="1.27" fill="#5a40b0" stroke="#fff" stroke-width="0.3"/><rect x="303.43" y="121.01" width="17.22" height="3.46" rx="0.83" fill="#c87a3a" stroke="#fff" stroke-width="0.3"/><rect x="303.43" y="123.86" width="17.22" height="3.2" rx="0.77" fill="#4ab050" stroke="#fff" stroke-width="0.3"/><rect x="258.3" y="123.6" width="37.94" height="13.06" rx="3.92" fill="#0e2844" stroke="#fff" stroke-width="0.3"/><rect x="296.16" y="126.46" width="24.48" height="8.13" rx="2.44" fill="#e8e830" stroke="#fff" stroke-width="0.3"/><rect x="258.3" y="137.1" width="18.73" height="53.3" rx="5.62" fill="#5a2270" stroke="#fff" stroke-width="0.3"/><rect x="276.43" y="137.1" width="4.23" height="23.43" rx="1.02" fill="#40c090" stroke="#fff" stroke-width="0.3"/><rect x="280.58" y="137.1" width="15.66" height="11.5" rx="3.45" fill="#5058c0" stroke="#fff" stroke-width="0.3"/><rect x="280.58" y="148.53" width="6.83" height="10.97" rx="1.64" fill="#3a0e28" stroke="#fff" stroke-width="0.3"/><rect x="286.82" y="148.01" width="9.43" height="12.52" rx="2.83" fill="#70d0b0" stroke="#fff" stroke-width="0.3"/><rect x="296.16" y="134.51" width="13.32" height="21.87" rx="4" fill="#7a60b8" stroke="#fff" stroke-width="0.3"/><rect x="309.14" y="134.51" width="3.36" height="21.01" rx="0.81" fill="#40c0c0" stroke="#fff" stroke-width="0.3"/><rect x="313.3" y="111.5" width="37.47" height="3.36" rx="0.81" fill="#8a8a3a" stroke="#fff" stroke-width="0.3"/><rect x="313.3" y="114.26" width="17.73" height="2.16" rx="0.52" fill="#b070c8" stroke="#fff" stroke-width="0.3"/><rect x="330.43" y="113.74" width="6.83" height="3.2" rx="0.77" fill="#3a50b0" stroke="#fff" stroke-width="0.3"/><rect x="336.66" y="113.74" width="14.1" height="3.2" rx="0.77" fill="#1a1a2a" stroke="#fff" stroke-width="0.3"/><rect x="313.3" y="115.82" width="18.25" height="5.79" rx="1.39" fill="#40b050" stroke="#fff" stroke-width="0.3"/><rect x="331.47" y="116.85" width="19.29" height="4.75" rx="1.14" fill="#a070a8" stroke="#fff" stroke-width="0.3"/><rect x="320.05" y="121.53" width="7.87" height="6.31" rx="1.51" fill="#e06a20" stroke="#fff" stroke-width="0.3"/><rect x="327.32" y="121.53" width="23.45" height="6.31" rx="1.51" fill="#f8d8a8" stroke="#fff" stroke-width="0.3"/><rect x="320.05" y="127.76" width="30.72" height="6.31" rx="1.51" fill="#f07a70" stroke="#fff" stroke-width="0.3"/><rect x="350.68" y="116.85" width="20.85" height="19.81" rx="5.94" fill="#4a68c0" stroke="#fff" stroke-width="0.3"/><rect x="309.5" y="133.99" width="12.96" height="22.39" rx="3.89" fill="#70c880" stroke="#fff" stroke-width="0.3"/><rect x="322.12" y="133.99" width="7.87" height="11.5" rx="1.89" fill="#f0a020" stroke="#fff" stroke-width="0.3"/><rect x="329.39" y="133.99" width="21.37" height="4.75" rx="1.14" fill="#b040a8" stroke="#fff" stroke-width="0.3"/><rect x="329.39" y="138.14" width="21.37" height="7.35" rx="1.76" fill="#7a3aa8" stroke="#fff" stroke-width="0.3"/><rect x="322.12" y="145.41" width="6.83" height="10.11" rx="1.64" fill="#5a40b0" stroke="#fff" stroke-width="0.3"/><rect x="328.87" y="145.41" width="21.89" height="10.97" rx="3.29" fill="#9a6a80" stroke="#fff" stroke-width="0.3"/><rect x="350.68" y="136.58" width="8.39" height="53.82" rx="2.52" fill="#b01a3a" stroke="#fff" stroke-width="0.3"/><rect x="358.47" y="136.58" width="13.06" height="53.82" rx="3.92" fill="#90d090" stroke="#fff" stroke-width="0.3"/><rect x="370.93" y="116.85" width="12.54" height="27.08" rx="3.76" fill="#d88878" stroke="#fff" stroke-width="0.3"/><rect x="383.39" y="116.85" width="14.1" height="27.08" rx="4.23" fill="#0e3a40" stroke="#fff" stroke-width="0.3"/><rect x="396.89" y="127.76" width="11.5" height="27.76" rx="3.45" fill="#b01a3a" stroke="#fff" stroke-width="0.3"/><rect x="407.8" y="127.76" width="21.37" height="62.64" rx="6" fill="#60c8e0" stroke="#fff" stroke-width="0.3"/><rect x="370.93" y="143.33" width="10.73" height="47.07" rx="3.22" fill="#c8d080" stroke="#fff" stroke-width="0.3"/><rect x="381.32" y="143.33" width="16.18" height="12.18" rx="3.66" fill="#4a60c0" stroke="#fff" stroke-width="0.3"/><rect x="439.47" y="111.5" width="29.16" height="15.82" rx="4.75" fill="#2e0e18" stroke="#fff" stroke-width="0.3"/><rect x="429.08" y="127.76" width="18.77" height="30.7" rx="5.63" fill="#5ab898" stroke="#fff" stroke-width="0.3"/><rect x="447.78" y="127.76" width="20.85" height="30.18" rx="6" fill="#646088" stroke="#fff" stroke-width="0.3"/><rect x="276.95" y="159.93" width="6.31" height="16.7" rx="1.51" fill="#3a50b0" stroke="#fff" stroke-width="0.3"/><rect x="282.66" y="159.93" width="5.79" height="12.54" rx="1.39" fill="#c0e080" stroke="#fff" stroke-width="0.3"/><rect x="287.85" y="160.45" width="8.39" height="10.98" rx="2.52" fill="#d070b0" stroke="#fff" stroke-width="0.3"/><rect x="276.95" y="176.55" width="6.31" height="13.85" rx="1.51" fill="#b0e0f0" stroke="#fff" stroke-width="0.3"/><rect x="282.66" y="171.87" width="5.79" height="18.53" rx="1.39" fill="#80c840" stroke="#fff" stroke-width="0.3"/><rect x="288.37" y="171.35" width="7.87" height="19.05" rx="1.89" fill="#c02a2a" stroke="#fff" stroke-width="0.3"/><rect x="296.68" y="156.3" width="25.52" height="34.1" rx="6" fill="#b82a2a" stroke="#fff" stroke-width="0.3"/><rect x="322.12" y="152.5" width="6.31" height="14.78" rx="1.51" fill="#7a40b0" stroke="#fff" stroke-width="0.3"/><rect x="328.35" y="155.78" width="22.41" height="11.5" rx="3.45" fill="#0e4a50" stroke="#fff" stroke-width="0.3"/><rect x="322.12" y="167.2" width="14.1" height="23.2" rx="4.23" fill="#8a6a50" stroke="#fff" stroke-width="0.3"/><rect x="335.62" y="167.2" width="15.14" height="23.2" rx="4.54" fill="#3a6a3a" stroke="#fff" stroke-width="0.3"/><rect x="381.32" y="152.5" width="16.18" height="37.9" rx="4.85" fill="#4a60b0" stroke="#fff" stroke-width="0.3"/><rect x="396.89" y="152.5" width="11.5" height="37.9" rx="3.45" fill="#a81e3a" stroke="#fff" stroke-width="0.3"/><rect x="429.08" y="158.37" width="18.77" height="32.03" rx="5.63" fill="#c8cc30" stroke="#fff" stroke-width="0.3"/><rect x="447.78" y="157.85" width="20.85" height="32.55" rx="6" fill="#4ab85a" stroke="#fff" stroke-width="0.3"/></g>
<text transform="translate(11.1,229.6) scale(0.8,1)" font-size="17" font-weight="bold" fill="#000">B</text>
<line x1="77.2" y1="221.86" x2="77.2" y2="380" stroke="#000" stroke-width="1.6"/>
<line x1="72.4" y1="222.56" x2="77.2" y2="222.56" stroke="#000" stroke-width="1.5"/>
<text x="67.3" y="226.46" font-size="12.3" text-anchor="end" fill="#231f20" textLength="17.1" lengthAdjust="spacingAndGlyphs">1.2</text>
<line x1="72.4" y1="248.8" x2="77.2" y2="248.8" stroke="#000" stroke-width="1.5"/>
<text x="67.3" y="252.7" font-size="12.3" text-anchor="end" fill="#231f20" textLength="17.1" lengthAdjust="spacingAndGlyphs">1.0</text>
<line x1="72.4" y1="275.04" x2="77.2" y2="275.04" stroke="#000" stroke-width="1.5"/>
<text x="67.3" y="278.94" font-size="12.3" text-anchor="end" fill="#231f20" textLength="17.1" lengthAdjust="spacingAndGlyphs">0.8</text>
<line x1="72.4" y1="301.28" x2="77.2" y2="301.28" stroke="#000" stroke-width="1.5"/>
<text x="67.3" y="305.18" font-size="12.3" text-anchor="end" fill="#231f20" textLength="17.1" lengthAdjust="spacingAndGlyphs">0.6</text>
<line x1="72.4" y1="327.52" x2="77.2" y2="327.52" stroke="#000" stroke-width="1.5"/>
<text x="67.3" y="331.42" font-size="12.3" text-anchor="end" fill="#231f20" textLength="17.1" lengthAdjust="spacingAndGlyphs">0.4</text>
<line x1="72.4" y1="353.76" x2="77.2" y2="353.76" stroke="#000" stroke-width="1.5"/>
<text x="67.3" y="357.66" font-size="12.3" text-anchor="end" fill="#231f20" textLength="17.1" lengthAdjust="spacingAndGlyphs">0.2</text>
<line x1="72.4" y1="380" x2="77.2" y2="380" stroke="#000" stroke-width="1.5"/>
<text x="67.3" y="383.9" font-size="12.3" text-anchor="end" fill="#231f20" textLength="17.1" lengthAdjust="spacingAndGlyphs">0.0</text>
<rect x="92.5" y="249.1" width="31.7" height="4.7" fill="#126b59"/>
<rect x="92.5" y="253.8" width="31.7" height="23.4" fill="#f7941d"/>
<rect x="92.5" y="277.2" width="31.7" height="29.2" fill="#5c2670"/>
<rect x="92.5" y="306.4" width="31.7" height="23.8" fill="#39b54a"/>
<rect x="92.5" y="330.2" width="31.7" height="31.2" fill="#11548b"/>
<rect x="92.5" y="361.4" width="31.7" height="18.6" fill="#c8102e"/>
<line x1="92.5" y1="253.8" x2="124.2" y2="253.8" stroke="#000" stroke-width="1"/>
<line x1="92.5" y1="277.2" x2="124.2" y2="277.2" stroke="#000" stroke-width="1"/>
<line x1="92.5" y1="306.4" x2="124.2" y2="306.4" stroke="#000" stroke-width="1"/>
<line x1="92.5" y1="330.2" x2="124.2" y2="330.2" stroke="#000" stroke-width="1"/>
<line x1="92.5" y1="361.4" x2="124.2" y2="361.4" stroke="#000" stroke-width="1"/>
<rect x="92.5" y="249.1" width="31.7" height="130.9" fill="none" stroke="#000" stroke-width="1.1"/>
<rect x="139.6" y="249.2" width="31.6" height="3.1" fill="#f7941d"/>
<rect x="139.6" y="252.3" width="31.6" height="14.1" fill="#5c2670"/>
<rect x="139.6" y="266.4" width="31.6" height="29" fill="#39b54a"/>
<rect x="139.6" y="295.4" width="31.6" height="55.8" fill="#11548b"/>
<rect x="139.6" y="351.2" width="31.6" height="28.8" fill="#c8102e"/>
<line x1="139.6" y1="252.3" x2="171.2" y2="252.3" stroke="#000" stroke-width="1"/>
<line x1="139.6" y1="266.4" x2="171.2" y2="266.4" stroke="#000" stroke-width="1"/>
<line x1="139.6" y1="295.4" x2="171.2" y2="295.4" stroke="#000" stroke-width="1"/>
<line x1="139.6" y1="351.2" x2="171.2" y2="351.2" stroke="#000" stroke-width="1"/>
<rect x="139.6" y="249.2" width="31.6" height="130.8" fill="none" stroke="#000" stroke-width="1.1"/>
<line x1="108.35" y1="245.2" x2="108.35" y2="259.6" stroke="#000" stroke-width="1.2"/>
<line x1="100.85" y1="245.2" x2="115.85" y2="245.2" stroke="#000" stroke-width="1.2"/>
<line x1="100.85" y1="248.1" x2="115.85" y2="248.1" stroke="#000" stroke-width="1.2"/>
<line x1="100.85" y1="252.7" x2="115.85" y2="252.7" stroke="#000" stroke-width="1.2"/>
<line x1="100.85" y1="259.6" x2="115.85" y2="259.6" stroke="#000" stroke-width="1.2"/>
<line x1="108.35" y1="276.4" x2="108.35" y2="278.5" stroke="#000" stroke-width="1.2"/>
<line x1="100.85" y1="276.4" x2="115.85" y2="276.4" stroke="#000" stroke-width="1.2"/>
<line x1="100.85" y1="278.5" x2="115.85" y2="278.5" stroke="#000" stroke-width="1.2"/>
<line x1="108.35" y1="303.8" x2="108.35" y2="308.6" stroke="#000" stroke-width="1.2"/>
<line x1="100.85" y1="303.8" x2="115.85" y2="303.8" stroke="#000" stroke-width="1.2"/>
<line x1="100.85" y1="308.6" x2="115.85" y2="308.6" stroke="#000" stroke-width="1.2"/>
<line x1="108.35" y1="324.8" x2="108.35" y2="335.5" stroke="#000" stroke-width="1.2"/>
<line x1="100.85" y1="324.8" x2="115.85" y2="324.8" stroke="#000" stroke-width="1.2"/>
<line x1="100.85" y1="335.5" x2="115.85" y2="335.5" stroke="#000" stroke-width="1.2"/>
<line x1="108.35" y1="358.1" x2="108.35" y2="364.4" stroke="#000" stroke-width="1.2"/>
<line x1="100.85" y1="358.1" x2="115.85" y2="358.1" stroke="#000" stroke-width="1.2"/>
<line x1="100.85" y1="364.4" x2="115.85" y2="364.4" stroke="#000" stroke-width="1.2"/>
<line x1="155.4" y1="244.5" x2="155.4" y2="268.5" stroke="#000" stroke-width="1.2"/>
<line x1="147.9" y1="244.5" x2="162.9" y2="244.5" stroke="#333" stroke-width="0.75"/>
<line x1="147.9" y1="245.7" x2="162.9" y2="245.7" stroke="#333" stroke-width="0.75"/>
<line x1="147.9" y1="246.9" x2="162.9" y2="246.9" stroke="#333" stroke-width="0.75"/>
<line x1="147.9" y1="248.1" x2="162.9" y2="248.1" stroke="#333" stroke-width="0.75"/>
<line x1="147.9" y1="251.5" x2="162.9" y2="251.5" stroke="#000" stroke-width="1.2"/>
<line x1="147.9" y1="259.6" x2="162.9" y2="259.6" stroke="#000" stroke-width="1.2"/>
<line x1="147.9" y1="264.6" x2="162.9" y2="264.6" stroke="#000" stroke-width="1.2"/>
<line x1="147.9" y1="268.5" x2="162.9" y2="268.5" stroke="#000" stroke-width="1.2"/>
<line x1="155.4" y1="286.5" x2="155.4" y2="303.8" stroke="#000" stroke-width="1.2"/>
<line x1="147.9" y1="286.5" x2="162.9" y2="286.5" stroke="#000" stroke-width="1.2"/>
<line x1="147.9" y1="303.8" x2="162.9" y2="303.8" stroke="#000" stroke-width="1.2"/>
<line x1="155.4" y1="347.5" x2="155.4" y2="354.4" stroke="#000" stroke-width="1.2"/>
<line x1="147.9" y1="347.5" x2="162.9" y2="347.5" stroke="#000" stroke-width="1.2"/>
<line x1="147.9" y1="354.4" x2="162.9" y2="354.4" stroke="#000" stroke-width="1.2"/>
<line x1="72.3" y1="380.2" x2="187.3" y2="380.2" stroke="#000" stroke-width="1.6"/>
<line x1="108.35" y1="380.2" x2="108.35" y2="384.8" stroke="#000" stroke-width="1.3"/>
<line x1="155.4" y1="380.2" x2="155.4" y2="384.8" stroke="#000" stroke-width="1.3"/>
<text transform="translate(113.3,392.7) rotate(-45)" font-size="10.1" text-anchor="end" fill="#231f20">HC</text>
<text transform="translate(159.9,393.7) rotate(-45)" font-size="10.1" text-anchor="end" fill="#231f20">pES</text>
<text transform="translate(42.9,302.2) rotate(-90)" x="0" y="0" font-size="14.2" text-anchor="middle" fill="#231f20" textLength="89" lengthAdjust="spacingAndGlyphs">Clonal proportion</text>
<rect x="191.8" y="266.2" width="13.8" height="7.2" fill="#126b59" stroke="#231f20" stroke-width="0.9"/>
<text x="213.6" y="273.7" font-size="10.7" text-anchor="start" fill="#231f20" textLength="24.1" lengthAdjust="spacingAndGlyphs">&gt;400</text>
<rect x="191.8" y="283.76" width="13.8" height="7.2" fill="#f7941d" stroke="#231f20" stroke-width="0.9"/>
<text x="213.6" y="291.26" font-size="10.7" text-anchor="start" fill="#231f20" textLength="39.26" lengthAdjust="spacingAndGlyphs">201-400</text>
<rect x="191.8" y="301.32" width="13.8" height="7.2" fill="#5c2670" stroke="#231f20" stroke-width="0.9"/>
<text x="213.6" y="308.82" font-size="10.7" text-anchor="start" fill="#231f20" textLength="39.26" lengthAdjust="spacingAndGlyphs">101-200</text>
<rect x="191.8" y="318.88" width="13.8" height="7.2" fill="#39b54a" stroke="#231f20" stroke-width="0.9"/>
<text x="213.6" y="326.38" font-size="10.7" text-anchor="start" fill="#231f20" textLength="33.31" lengthAdjust="spacingAndGlyphs">51-100</text>
<rect x="191.8" y="336.44" width="13.8" height="7.2" fill="#11548b" stroke="#231f20" stroke-width="0.9"/>
<text x="213.6" y="343.94" font-size="10.7" text-anchor="start" fill="#231f20" textLength="26.57" lengthAdjust="spacingAndGlyphs">11-50</text>
<rect x="191.8" y="354" width="13.8" height="7.2" fill="#c8102e" stroke="#231f20" stroke-width="0.9"/>
<text x="213.6" y="361.5" font-size="10.7" text-anchor="start" fill="#231f20" textLength="21.41" lengthAdjust="spacingAndGlyphs">0-10</text>
<text transform="translate(286.5,230.3) scale(0.91,1)" font-size="17" font-weight="bold" fill="#000">C</text>
<line x1="340.1" y1="244.7" x2="340.1" y2="346.5" stroke="#000" stroke-width="1.6"/>
<line x1="340.1" y1="355.7" x2="340.1" y2="381.4" stroke="#000" stroke-width="1.6"/>
<line x1="335.1" y1="245.4" x2="340.1" y2="245.4" stroke="#000" stroke-width="1.5"/>
<text x="331.6" y="248.5" font-size="11.5" text-anchor="end" fill="#231f20" textLength="13.81" lengthAdjust="spacingAndGlyphs">10</text>
<line x1="335.1" y1="270.6" x2="340.1" y2="270.6" stroke="#000" stroke-width="1.5"/>
<text x="331.6" y="273.7" font-size="11.5" text-anchor="end" fill="#231f20" textLength="6.91" lengthAdjust="spacingAndGlyphs">9</text>
<line x1="335.1" y1="296" x2="340.1" y2="296" stroke="#000" stroke-width="1.5"/>
<text x="331.6" y="299.1" font-size="11.5" text-anchor="end" fill="#231f20" textLength="6.91" lengthAdjust="spacingAndGlyphs">8</text>
<line x1="335.1" y1="321.4" x2="340.1" y2="321.4" stroke="#000" stroke-width="1.5"/>
<text x="331.6" y="324.5" font-size="11.5" text-anchor="end" fill="#231f20" textLength="6.91" lengthAdjust="spacingAndGlyphs">7</text>
<line x1="335.1" y1="346.5" x2="340.1" y2="346.5" stroke="#000" stroke-width="1.5"/>
<text x="331.6" y="349.6" font-size="11.5" text-anchor="end" fill="#231f20" textLength="6.91" lengthAdjust="spacingAndGlyphs">6</text>
<line x1="335.1" y1="355.7" x2="340.1" y2="355.7" stroke="#000" stroke-width="1.5"/>
<text x="331.6" y="358.8" font-size="11.5" text-anchor="end" fill="#231f20" textLength="6.91" lengthAdjust="spacingAndGlyphs">6</text>
<line x1="335.1" y1="381.4" x2="340.1" y2="381.4" stroke="#000" stroke-width="1.5"/>
<text x="331.6" y="384.5" font-size="11.5" text-anchor="end" fill="#231f20" textLength="6.91" lengthAdjust="spacingAndGlyphs">0</text>
<line x1="339.3" y1="346.5" x2="342.6" y2="346.5" stroke="#000" stroke-width="1.5"/>
<line x1="339.3" y1="355.7" x2="342.6" y2="355.7" stroke="#000" stroke-width="1.5"/>
<line x1="335.1" y1="381.4" x2="438.5" y2="381.4" stroke="#000" stroke-width="1.5"/>
<line x1="341.2" y1="381.6" x2="437.5" y2="381.6" stroke="#000" stroke-width="2.4" stroke-linecap="round" stroke-dasharray="0 3.7"/>
<line x1="367.9" y1="381.4" x2="367.9" y2="385.6" stroke="#000" stroke-width="1.3"/>
<line x1="409.9" y1="381.4" x2="409.9" y2="385.6" stroke="#000" stroke-width="1.3"/>
<text transform="translate(373.2,394.2) rotate(-45)" font-size="10.1" text-anchor="end" fill="#231f20">HC</text>
<text transform="translate(415.7,394.7) rotate(-45)" font-size="10.1" text-anchor="end" fill="#231f20">pES</text>
<text transform="translate(316.6,311.7) rotate(-90)" x="0" y="0" font-size="13" text-anchor="middle" fill="#231f20" textLength="84" lengthAdjust="spacingAndGlyphs">Shannon entropy</text>
<line x1="366.5" y1="246.7" x2="411.2" y2="246.7" stroke="#000" stroke-width="1.6"/>
<polygon points="386.27,236.25 387.07,238.26 389.22,238.39 387.56,239.77 388.1,241.86 386.27,240.7 384.45,241.86 384.99,239.77 383.33,238.39 385.48,238.26" fill="#111" stroke="#111" stroke-width="0.35" stroke-linejoin="round"/>
<polygon points="392.62,236.25 393.42,238.26 395.57,238.39 393.91,239.77 394.45,241.86 392.62,240.7 390.8,241.86 391.34,239.77 389.68,238.39 391.83,238.26" fill="#111" stroke="#111" stroke-width="0.35" stroke-linejoin="round"/>
<path d="M367.9,274.2 C368.07,274.42 368.32,275.03 368.9,275.5 C369.48,275.97 370.32,276.42 371.4,277 C372.48,277.58 374.15,278.33 375.4,279 C376.65,279.67 377.82,280.33 378.9,281 C379.98,281.67 382.27,282.23 381.9,283 C381.53,283.77 378.03,284.75 376.7,285.6 C375.37,286.45 373.93,287.1 373.9,288.1 C373.87,289.1 375.83,290.23 376.5,291.6 C377.17,292.97 378.03,294.8 377.9,296.3 C377.77,297.8 376.83,299.32 375.7,300.6 C374.57,301.88 372.4,302.98 371.1,304 C369.8,305.02 368.43,306.25 367.9,306.7 C367.37,306.25 366,305.02 364.7,304 C363.4,302.98 361.23,301.88 360.1,300.6 C358.97,299.32 358.03,297.8 357.9,296.3 C357.77,294.8 358.63,292.97 359.3,291.6 C359.97,290.23 361.93,289.1 361.9,288.1 C361.87,287.1 360.43,286.45 359.1,285.6 C357.77,284.75 354.27,283.77 353.9,283 C353.53,282.23 355.82,281.67 356.9,281 C357.98,280.33 359.15,279.67 360.4,279 C361.65,278.33 363.32,277.58 364.4,277 C365.48,276.42 366.32,275.97 366.9,275.5 C367.48,275.03 367.73,274.42 367.9,274.2Z" fill="#e0707f"/>
<line x1="354.5" y1="283" x2="381.3" y2="283" stroke="#c83a52" stroke-width="0.7"/>
<line x1="358.6" y1="297.7" x2="377.2" y2="297.7" stroke="#c83a52" stroke-width="0.7"/>
<line x1="362" y1="288.1" x2="374" y2="288.1" stroke="#000" stroke-width="1.5"/>
<circle cx="364" cy="283.3" r="2.2" fill="#c8102e"/>
<circle cx="371.3" cy="283.3" r="2.2" fill="#c8102e"/>
<circle cx="368" cy="293" r="2.2" fill="#c8102e"/>
<circle cx="368" cy="298.3" r="2.2" fill="#c8102e"/>
<path d="M410.1,297 C410.4,297.5 410.97,298.87 411.9,300 C412.83,301.13 414.55,302.32 415.7,303.8 C416.85,305.28 418.53,307.62 418.8,308.9 C419.07,310.18 417.52,310.72 417.3,311.5 C417.08,312.28 416.87,312.6 417.5,313.6 C418.13,314.6 419.92,316.22 421.1,317.5 C422.28,318.78 424.5,319.92 424.6,321.3 C424.7,322.68 422.35,324.42 421.7,325.8 C421.05,327.18 421.53,328.23 420.7,329.6 C419.87,330.97 418.07,332.57 416.7,334 C415.33,335.43 413.6,336.62 412.5,338.2 C411.4,339.78 410.5,342.62 410.1,343.5 C409.7,342.62 408.8,339.78 407.7,338.2 C406.6,336.62 404.87,335.43 403.5,334 C402.13,332.57 400.33,330.97 399.5,329.6 C398.67,328.23 399.15,327.18 398.5,325.8 C397.85,324.42 395.5,322.68 395.6,321.3 C395.7,319.92 397.92,318.78 399.1,317.5 C400.28,316.22 402.07,314.6 402.7,313.6 C403.33,312.6 403.12,312.28 402.9,311.5 C402.68,310.72 401.13,310.18 401.4,308.9 C401.67,307.62 403.35,305.28 404.5,303.8 C405.65,302.32 407.37,301.13 408.3,300 C409.23,298.87 409.8,297.5 410.1,297Z" fill="#4b7eae"/>
<line x1="401.5" y1="311.3" x2="417.9" y2="311.3" stroke="#000" stroke-width="1.45" stroke-dasharray="1.3 0.7"/>
<line x1="395.8" y1="321.3" x2="424.6" y2="321.3" stroke="#000" stroke-width="1.4"/>
<line x1="398.9" y1="329.6" x2="420.5" y2="329.6" stroke="#000" stroke-width="1.45" stroke-dasharray="1.3 0.7"/>
<circle cx="410.1" cy="308.9" r="2" fill="#175a98"/>
<circle cx="410.1" cy="318.9" r="2" fill="#175a98"/>
<circle cx="410.1" cy="323.7" r="2" fill="#175a98"/>
<circle cx="410.1" cy="331.7" r="2" fill="#175a98"/>
<text transform="translate(10.8,434.8) scale(1.01,1)" font-size="17" font-weight="bold" fill="#000">D</text>
<line x1="56.1" y1="439.6" x2="56.1" y2="585.4" stroke="#000" stroke-width="1.6"/>
<line x1="51.3" y1="440.3" x2="56.1" y2="440.3" stroke="#000" stroke-width="1.5"/>
<text x="47.2" y="443.8" font-size="11.5" text-anchor="end" fill="#231f20" textLength="12.28" lengthAdjust="spacingAndGlyphs">25</text>
<line x1="51.3" y1="469.2" x2="56.1" y2="469.2" stroke="#000" stroke-width="1.5"/>
<text x="47.2" y="472.7" font-size="11.5" text-anchor="end" fill="#231f20" textLength="12.28" lengthAdjust="spacingAndGlyphs">20</text>
<line x1="51.3" y1="498.1" x2="56.1" y2="498.1" stroke="#000" stroke-width="1.5"/>
<text x="47.2" y="501.6" font-size="11.5" text-anchor="end" fill="#231f20" textLength="12.28" lengthAdjust="spacingAndGlyphs">15</text>
<line x1="51.3" y1="527.1" x2="56.1" y2="527.1" stroke="#000" stroke-width="1.5"/>
<text x="47.2" y="530.6" font-size="11.5" text-anchor="end" fill="#231f20" textLength="12.28" lengthAdjust="spacingAndGlyphs">10</text>
<line x1="51.3" y1="556.1" x2="56.1" y2="556.1" stroke="#000" stroke-width="1.5"/>
<text x="47.2" y="559.6" font-size="11.5" text-anchor="end" fill="#231f20" textLength="6.14" lengthAdjust="spacingAndGlyphs">5</text>
<line x1="51.3" y1="585.4" x2="56.1" y2="585.4" stroke="#000" stroke-width="1.5"/>
<text x="47.2" y="588.9" font-size="11.5" text-anchor="end" fill="#231f20" textLength="6.14" lengthAdjust="spacingAndGlyphs">0</text>
<line x1="51.3" y1="585.6" x2="154.6" y2="585.6" stroke="#000" stroke-width="1.5"/>
<line x1="59.2" y1="585.8" x2="153.6" y2="585.8" stroke="#000" stroke-width="2.4" stroke-linecap="round" stroke-dasharray="0 3.65"/>
<line x1="83.6" y1="585.6" x2="83.6" y2="589.8" stroke="#000" stroke-width="1.3"/>
<line x1="126.3" y1="585.6" x2="126.3" y2="589.8" stroke="#000" stroke-width="1.3"/>
<text transform="translate(88.9,599.4) rotate(-45)" font-size="10.1" text-anchor="end" fill="#231f20">HC</text>
<text transform="translate(131.3,599.7) rotate(-45)" font-size="10.1" text-anchor="end" fill="#231f20">pES</text>
<text transform="translate(27.2,513.2) rotate(-90)" x="0" y="0" font-size="14.4" text-anchor="middle" fill="#231f20" textLength="74.4" lengthAdjust="spacingAndGlyphs">Diversity index</text>
<line x1="84" y1="442.1" x2="131.2" y2="442.1" stroke="#222" stroke-width="1.5"/>
<polygon points="101.25,431.05 102.04,433.06 104.2,433.19 102.53,434.57 103.07,436.66 101.25,435.5 99.43,436.66 99.97,434.57 98.3,433.19 100.46,433.06" fill="#111" stroke="#111" stroke-width="0.35" stroke-linejoin="round"/>
<polygon points="107.45,431.05 108.24,433.06 110.4,433.19 108.73,434.57 109.27,436.66 107.45,435.5 105.63,436.66 106.17,434.57 104.5,433.19 106.66,433.06" fill="#111" stroke="#111" stroke-width="0.35" stroke-linejoin="round"/>
<polygon points="113.65,431.05 114.44,433.06 116.6,433.19 114.93,434.57 115.47,436.66 113.65,435.5 111.83,436.66 112.37,434.57 110.7,433.19 112.86,433.06" fill="#111" stroke="#111" stroke-width="0.35" stroke-linejoin="round"/>
<path d="M83.6,454.3 C83.77,454.52 84.02,455.12 84.6,455.6 C85.18,456.08 86.02,456.58 87.1,457.2 C88.18,457.82 89.85,458.58 91.1,459.3 C92.35,460.02 93.52,460.75 94.6,461.5 C95.68,462.25 97.97,462.95 97.6,463.8 C97.23,464.65 93.68,465.63 92.4,466.6 C91.12,467.57 89.95,468.47 89.9,469.6 C89.85,470.73 91.57,472.07 92.1,473.4 C92.63,474.73 93.22,476.17 93.1,477.6 C92.98,479.03 92.38,480.6 91.4,482 C90.42,483.4 88.5,484.68 87.2,486 C85.9,487.32 84.2,489.25 83.6,489.9 C83,489.25 81.3,487.32 80,486 C78.7,484.68 76.78,483.4 75.8,482 C74.82,480.6 74.22,479.03 74.1,477.6 C73.98,476.17 74.57,474.73 75.1,473.4 C75.63,472.07 77.35,470.73 77.3,469.6 C77.25,468.47 76.08,467.57 74.8,466.6 C73.52,465.63 69.97,464.65 69.6,463.8 C69.23,462.95 71.52,462.25 72.6,461.5 C73.68,460.75 74.85,460.02 76.1,459.3 C77.35,458.58 79.02,457.82 80.1,457.2 C81.18,456.58 82.02,456.08 82.6,455.6 C83.18,455.12 83.43,454.52 83.6,454.3Z" fill="#e0707f"/>
<line x1="69.8" y1="463.8" x2="97.4" y2="463.8" stroke="#c83a52" stroke-width="0.7" stroke-dasharray="1 0.8"/>
<line x1="75" y1="479.3" x2="92.2" y2="479.3" stroke="#c83a52" stroke-width="0.7" stroke-dasharray="1 0.8"/>
<line x1="77.8" y1="469.6" x2="89.4" y2="469.6" stroke="#000" stroke-width="1.5"/>
<circle cx="79.8" cy="463.8" r="2.2" fill="#c8102e"/>
<circle cx="87.4" cy="463.8" r="2.2" fill="#c8102e"/>
<circle cx="83.6" cy="474.8" r="2.2" fill="#c8102e"/>
<circle cx="83.6" cy="481.2" r="2.2" fill="#c8102e"/>
<path d="M126.3,483.7 C126.53,484.25 127.07,485.78 127.7,487 C128.33,488.22 129.38,489.73 130.1,491 C130.82,492.27 131.6,493.38 132,494.6 C132.4,495.82 132.62,497.07 132.5,498.3 C132.38,499.53 131.78,500.95 131.3,502 C130.82,503.05 129.95,503.77 129.6,504.6 C129.25,505.43 129,506.1 129.2,507 C129.4,507.9 129.85,508.83 130.8,510 C131.75,511.17 133.3,512.37 134.9,514 C136.5,515.63 139.8,518.13 140.4,519.8 C141,521.47 139.22,522.7 138.5,524 C137.78,525.3 137.07,526.35 136.1,527.6 C135.13,528.85 133.92,530.1 132.7,531.5 C131.48,532.9 129.87,534.58 128.8,536 C127.73,537.42 126.72,539.33 126.3,540 C125.88,539.33 124.87,537.42 123.8,536 C122.73,534.58 121.12,532.9 119.9,531.5 C118.68,530.1 117.47,528.85 116.5,527.6 C115.53,526.35 114.82,525.3 114.1,524 C113.38,522.7 111.6,521.47 112.2,519.8 C112.8,518.13 116.1,515.63 117.7,514 C119.3,512.37 120.85,511.17 121.8,510 C122.75,508.83 123.2,507.9 123.4,507 C123.6,506.1 123.35,505.43 123,504.6 C122.65,503.77 121.78,503.05 121.3,502 C120.82,500.95 120.22,499.53 120.1,498.3 C119.98,497.07 120.2,495.82 120.6,494.6 C121,493.38 121.78,492.27 122.5,491 C123.22,489.73 124.27,488.22 124.9,487 C125.53,485.78 126.07,484.25 126.3,483.7Z" fill="#4b7eae"/>
<line x1="122.2" y1="503.4" x2="129.2" y2="503.4" stroke="#000" stroke-width="1.45" stroke-dasharray="1.3 0.7"/>
<line x1="112" y1="519.8" x2="140.2" y2="519.8" stroke="#000" stroke-width="1.4"/>
<line x1="113.8" y1="525.5" x2="138" y2="525.5" stroke="#000" stroke-width="1.45" stroke-dasharray="1.3 0.7"/>
<circle cx="126.3" cy="498.3" r="2" fill="#175a98"/>
<circle cx="122.3" cy="518" r="2" fill="#175a98"/>
<circle cx="129.9" cy="521.5" r="2" fill="#175a98"/>
<circle cx="125.9" cy="526.8" r="2" fill="#175a98"/>
<text transform="translate(172,434.8) scale(0.78,1)" font-size="17" font-weight="bold" fill="#000">E</text>
<line x1="228.1" y1="437.4" x2="228.1" y2="585.7" stroke="#000" stroke-width="1.6"/>
<line x1="223.3" y1="438.1" x2="228.1" y2="438.1" stroke="#000" stroke-width="1.5"/>
<text x="221.8" y="441.6" font-size="11.5" text-anchor="end" fill="#231f20" textLength="15.35" lengthAdjust="spacingAndGlyphs">1.0</text>
<line x1="223.3" y1="467.6" x2="228.1" y2="467.6" stroke="#000" stroke-width="1.5"/>
<text x="221.8" y="471.1" font-size="11.5" text-anchor="end" fill="#231f20" textLength="15.35" lengthAdjust="spacingAndGlyphs">0.8</text>
<line x1="223.3" y1="497.1" x2="228.1" y2="497.1" stroke="#000" stroke-width="1.5"/>
<text x="221.8" y="500.6" font-size="11.5" text-anchor="end" fill="#231f20" textLength="15.35" lengthAdjust="spacingAndGlyphs">0.6</text>
<line x1="223.3" y1="526.6" x2="228.1" y2="526.6" stroke="#000" stroke-width="1.5"/>
<text x="221.8" y="530.1" font-size="11.5" text-anchor="end" fill="#231f20" textLength="15.35" lengthAdjust="spacingAndGlyphs">0.4</text>
<line x1="223.3" y1="556.1" x2="228.1" y2="556.1" stroke="#000" stroke-width="1.5"/>
<text x="221.8" y="559.6" font-size="11.5" text-anchor="end" fill="#231f20" textLength="15.35" lengthAdjust="spacingAndGlyphs">0.2</text>
<line x1="223.3" y1="585.7" x2="228.1" y2="585.7" stroke="#000" stroke-width="1.5"/>
<text x="221.8" y="589.2" font-size="11.5" text-anchor="end" fill="#231f20" textLength="15.35" lengthAdjust="spacingAndGlyphs">0.0</text>
<line x1="223.3" y1="585.8" x2="328.7" y2="585.8" stroke="#000" stroke-width="1.5"/>
<line x1="231.2" y1="586" x2="327.7" y2="586" stroke="#000" stroke-width="2.4" stroke-linecap="round" stroke-dasharray="0 3.65"/>
<line x1="258.4" y1="585.6" x2="258.4" y2="589.8" stroke="#000" stroke-width="1.3"/>
<line x1="304.3" y1="585.6" x2="304.3" y2="589.8" stroke="#000" stroke-width="1.3"/>
<text transform="translate(264.1,599.4) rotate(-45)" font-size="10.1" text-anchor="end" fill="#231f20">HC</text>
<text transform="translate(310.1,599.7) rotate(-45)" font-size="10.1" text-anchor="end" fill="#231f20">pES</text>
<text transform="translate(199.3,511.5) rotate(-90)" x="0" y="0" font-size="15" text-anchor="middle" fill="#231f20" textLength="74.8" lengthAdjust="spacingAndGlyphs">Gini coefficient</text>
<line x1="253.6" y1="438.1" x2="301.6" y2="438.1" stroke="#222" stroke-width="1.5"/>
<polygon points="271.1,428.25 271.89,430.26 274.05,430.39 272.38,431.77 272.92,433.86 271.1,432.7 269.28,433.86 269.82,431.77 268.15,430.39 270.31,430.26" fill="#111" stroke="#111" stroke-width="0.35" stroke-linejoin="round"/>
<polygon points="277.45,428.25 278.24,430.26 280.4,430.39 278.73,431.77 279.27,433.86 277.45,432.7 275.63,433.86 276.17,431.77 274.5,430.39 276.66,430.26" fill="#111" stroke="#111" stroke-width="0.35" stroke-linejoin="round"/>
<polygon points="283.8,428.25 284.59,430.26 286.75,430.39 285.08,431.77 285.62,433.86 283.8,432.7 281.98,433.86 282.52,431.77 280.85,430.39 283.01,430.26" fill="#111" stroke="#111" stroke-width="0.35" stroke-linejoin="round"/>
<path d="M258.5,483.6 C259,483.9 260.27,484.77 261.5,485.4 C262.73,486.03 264.85,486.75 265.9,487.4 C266.95,488.05 267.6,488.6 267.8,489.3 C268,490 267.28,490.73 267.1,491.6 C266.92,492.47 265.62,493.57 266.7,494.5 C267.78,495.43 273.73,496.38 273.6,497.2 C273.47,498.02 267.92,498.77 265.9,499.4 C263.88,500.03 262.73,500.5 261.5,501 C260.27,501.5 259,502.17 258.5,502.4 C258,502.17 256.73,501.5 255.5,501 C254.27,500.5 253.12,500.03 251.1,499.4 C249.08,498.77 243.53,498.02 243.4,497.2 C243.27,496.38 249.22,495.43 250.3,494.5 C251.38,493.57 250.08,492.47 249.9,491.6 C249.72,490.73 249,490 249.2,489.3 C249.4,488.6 250.05,488.05 251.1,487.4 C252.15,486.75 254.27,486.03 255.5,485.4 C256.73,484.77 258,483.9 258.5,483.6Z" fill="#e0707f"/>
<line x1="251.1" y1="494.5" x2="267" y2="494.5" stroke="#000" stroke-width="1.5"/>
<circle cx="254.6" cy="491.6" r="2.2" fill="#c8102e"/>
<circle cx="262.7" cy="488" r="2.2" fill="#c8102e"/>
<circle cx="254.6" cy="497.4" r="2.2" fill="#c8102e"/>
<circle cx="262.7" cy="497.4" r="2.2" fill="#c8102e"/>
<path d="M304.5,458.3 C305.17,458.75 306.9,460.05 308.5,461 C310.1,461.95 312.22,462.95 314.1,464 C315.98,465.05 319.73,466.3 319.8,467.3 C319.87,468.3 316.22,469.13 314.5,470 C312.78,470.87 310.63,471.73 309.5,472.5 C308.37,473.27 307.6,473.85 307.7,474.6 C307.8,475.35 309.55,476.18 310.1,477 C310.65,477.82 311.2,478.57 311,479.5 C310.8,480.43 309.98,481.52 308.9,482.6 C307.82,483.68 305.23,485.43 304.5,486 C303.77,485.43 301.18,483.68 300.1,482.6 C299.02,481.52 298.2,480.43 298,479.5 C297.8,478.57 298.35,477.82 298.9,477 C299.45,476.18 301.2,475.35 301.3,474.6 C301.4,473.85 300.63,473.27 299.5,472.5 C298.37,471.73 296.22,470.87 294.5,470 C292.78,469.13 289.13,468.3 289.2,467.3 C289.27,466.3 293.02,465.05 294.9,464 C296.78,462.95 298.9,461.95 300.5,461 C302.1,460.05 303.83,458.75 304.5,458.3Z" fill="#4b7eae"/>
<line x1="291" y1="466.1" x2="318" y2="466.1" stroke="#000" stroke-width="1.45" stroke-dasharray="1.3 0.7"/>
<line x1="289.8" y1="468.9" x2="319.2" y2="468.9" stroke="#000" stroke-width="1.4"/>
<line x1="300" y1="476.7" x2="308.5" y2="476.7" stroke="#000" stroke-width="1.45" stroke-dasharray="1.3 0.7"/>
<circle cx="300.7" cy="467.3" r="2" fill="#175a98"/>
<circle cx="308.6" cy="465.2" r="2" fill="#175a98"/>
<circle cx="308.6" cy="469.8" r="2" fill="#175a98"/>
<circle cx="304.3" cy="479.6" r="2" fill="#175a98"/>
<text transform="translate(349.8,434.8) scale(0.86,1)" font-size="17" font-weight="bold" fill="#000">F</text>
<line x1="399" y1="442.9" x2="399" y2="586" stroke="#000" stroke-width="1.6"/>
<line x1="394.2" y1="443.6" x2="399" y2="443.6" stroke="#000" stroke-width="1.5"/>
<text x="391.8" y="447.1" font-size="11.5" text-anchor="end" fill="#231f20" textLength="12.28" lengthAdjust="spacingAndGlyphs">80</text>
<line x1="394.2" y1="479.2" x2="399" y2="479.2" stroke="#000" stroke-width="1.5"/>
<text x="391.8" y="482.7" font-size="11.5" text-anchor="end" fill="#231f20" textLength="12.28" lengthAdjust="spacingAndGlyphs">60</text>
<line x1="394.2" y1="514.8" x2="399" y2="514.8" stroke="#000" stroke-width="1.5"/>
<text x="391.8" y="518.3" font-size="11.5" text-anchor="end" fill="#231f20" textLength="12.28" lengthAdjust="spacingAndGlyphs">40</text>
<line x1="394.2" y1="550.4" x2="399" y2="550.4" stroke="#000" stroke-width="1.5"/>
<text x="391.8" y="553.9" font-size="11.5" text-anchor="end" fill="#231f20" textLength="12.28" lengthAdjust="spacingAndGlyphs">20</text>
<line x1="394.2" y1="586" x2="399" y2="586" stroke="#000" stroke-width="1.5"/>
<text x="391.8" y="589.5" font-size="11.5" text-anchor="end" fill="#231f20" textLength="6.14" lengthAdjust="spacingAndGlyphs">0</text>
<line x1="394.2" y1="585.9" x2="509.7" y2="585.9" stroke="#000" stroke-width="1.5"/>
<line x1="402.1" y1="586.1" x2="508.7" y2="586.1" stroke="#000" stroke-width="2.4" stroke-linecap="round" stroke-dasharray="0 3.65"/>
<line x1="430.3" y1="585.9" x2="430.3" y2="590.1" stroke="#000" stroke-width="1.3"/>
<line x1="477.6" y1="585.9" x2="477.6" y2="590.1" stroke="#000" stroke-width="1.3"/>
<text transform="translate(435.9,600) rotate(-45)" font-size="10.1" text-anchor="end" fill="#231f20">HC</text>
<text transform="translate(482.1,599.8) rotate(-45)" font-size="10.1" text-anchor="end" fill="#231f20">pES</text>
<text transform="translate(370.7,514.4) rotate(-90)" x="0" y="0" font-size="13.5" text-anchor="middle" fill="#231f20" textLength="104.3" lengthAdjust="spacingAndGlyphs">% of TRBV29-1 usage</text>
<line x1="427.3" y1="445.1" x2="473.9" y2="445.1" stroke="#333" stroke-width="1.5"/>
<polygon points="447.1,434.45 447.89,436.46 450.05,436.59 448.38,437.97 448.92,440.06 447.1,438.9 445.28,440.06 445.82,437.97 444.15,436.59 446.31,436.46" fill="#111" stroke="#111" stroke-width="0.35" stroke-linejoin="round"/>
<polygon points="453.5,434.45 454.29,436.46 456.45,436.59 454.78,437.97 455.32,440.06 453.5,438.9 451.68,440.06 452.22,437.97 450.55,436.59 452.71,436.46" fill="#111" stroke="#111" stroke-width="0.35" stroke-linejoin="round"/>
<path d="M430.4,550 C431.07,550.25 432.73,551 434.4,551.5 C436.07,552 438.48,552.55 440.4,553 C442.32,553.45 445.82,553.7 445.9,554.2 C445.98,554.7 442.32,555.23 440.9,556 C439.48,556.77 438.57,557.97 437.4,558.8 C436.23,559.63 435.07,560.35 433.9,561 C432.73,561.65 430.98,562.42 430.4,562.7 C429.82,562.42 428.07,561.65 426.9,561 C425.73,560.35 424.57,559.63 423.4,558.8 C422.23,557.97 421.32,556.77 419.9,556 C418.48,555.23 414.82,554.7 414.9,554.2 C414.98,553.7 418.48,553.45 420.4,553 C422.32,552.55 424.73,552 426.4,551.5 C428.07,551 429.73,550.25 430.4,550Z" fill="#e0707f"/>
<line x1="415" y1="555.8" x2="446" y2="555.8" stroke="#000" stroke-width="1.5"/>
<circle cx="422.7" cy="552.7" r="2.3" fill="#c8102e"/>
<circle cx="430.4" cy="554.6" r="2.3" fill="#c8102e"/>
<circle cx="438.1" cy="555.8" r="2.3" fill="#c8102e"/>
<circle cx="422.7" cy="559.6" r="2.3" fill="#c8102e"/>
<path d="M477.9,471.2 C478.1,471.83 478.63,473.78 479.1,475 C479.57,476.22 480.1,477.33 480.7,478.5 C481.3,479.67 482,480.75 482.7,482 C483.4,483.25 484.32,484.5 484.9,486 C485.48,487.5 485.88,489.33 486.2,491 C486.52,492.67 486.48,494.5 486.8,496 C487.12,497.5 487.48,498.67 488.1,500 C488.72,501.33 489.77,502.8 490.5,504 C491.23,505.2 491.92,506.25 492.5,507.2 C493.08,508.15 494.07,508.9 494,509.7 C493.93,510.5 493.05,510.95 492.1,512 C491.15,513.05 489.5,514.67 488.3,516 C487.1,517.33 485.8,518.83 484.9,520 C484,521.17 483.28,522.17 482.9,523 C482.52,523.83 482.5,524.17 482.6,525 C482.7,525.83 483.02,526.83 483.5,528 C483.98,529.17 485.08,530.72 485.5,532 C485.92,533.28 486.1,534.37 486,535.7 C485.9,537.03 485.5,538.45 484.9,540 C484.3,541.55 483.23,543.33 482.4,545 C481.57,546.67 480.65,548.27 479.9,550 C479.15,551.73 478.23,554.5 477.9,555.4 C477.57,554.5 476.65,551.73 475.9,550 C475.15,548.27 474.23,546.67 473.4,545 C472.57,543.33 471.5,541.55 470.9,540 C470.3,538.45 469.9,537.03 469.8,535.7 C469.7,534.37 469.88,533.28 470.3,532 C470.72,530.72 471.82,529.17 472.3,528 C472.78,526.83 473.1,525.83 473.2,525 C473.3,524.17 473.28,523.83 472.9,523 C472.52,522.17 471.8,521.17 470.9,520 C470,518.83 468.7,517.33 467.5,516 C466.3,514.67 464.65,513.05 463.7,512 C462.75,510.95 461.87,510.5 461.8,509.7 C461.73,508.9 462.72,508.15 463.3,507.2 C463.88,506.25 464.57,505.2 465.3,504 C466.03,502.8 467.08,501.33 467.7,500 C468.32,498.67 468.68,497.5 469,496 C469.32,494.5 469.28,492.67 469.6,491 C469.92,489.33 470.32,487.5 470.9,486 C471.48,484.5 472.4,483.25 473.1,482 C473.8,480.75 474.5,479.67 475.1,478.5 C475.7,477.33 476.23,476.22 476.7,475 C477.17,473.78 477.7,471.83 477.9,471.2Z" fill="#4b7eae"/>
<line x1="468" y1="496" x2="486.7" y2="496" stroke="#000" stroke-width="1.45" stroke-dasharray="1.3 0.7"/>
<line x1="461.8" y1="509.7" x2="494" y2="509.7" stroke="#000" stroke-width="1.4"/>
<line x1="471.6" y1="529.5" x2="482.5" y2="529.5" stroke="#000" stroke-width="1.45" stroke-dasharray="1.3 0.7"/>
<circle cx="477.9" cy="492" r="2" fill="#175a98"/>
<circle cx="473.9" cy="508.1" r="2" fill="#175a98"/>
<circle cx="481.8" cy="511" r="2" fill="#175a98"/>
<circle cx="477.9" cy="535.5" r="2" fill="#175a98"/>
<text transform="translate(10.4,638.8) scale(0.93,1)" font-size="17" font-weight="bold" fill="#000">G</text>
<ellipse transform="translate(103.6,706.6) rotate(39.2)" rx="61.3" ry="30.7" fill="rgb(160,216,242)" style="mix-blend-mode:multiply"/>
<ellipse transform="translate(136,690.5) rotate(39.2)" rx="60.8" ry="31.8" fill="rgb(150,178,200)" style="mix-blend-mode:multiply"/>
<ellipse transform="translate(130.5,689.9) rotate(-39.5)" rx="61.6" ry="28.9" fill="rgb(222,124,142)" style="mix-blend-mode:multiply"/>
<ellipse transform="translate(165.2,705.5) rotate(-37.5)" rx="60.6" ry="31.7" fill="rgb(253,240,212)" style="mix-blend-mode:multiply"/>
<text x="67.7" y="658.8" font-size="8.2" text-anchor="middle" fill="#231f20">HC1</text>
<text x="104.4" y="641.9" font-size="8.2" text-anchor="middle" fill="#231f20">HC2</text>
<text x="165.2" y="641.9" font-size="8.2" text-anchor="middle" fill="#231f20">HC3</text>
<text x="201.7" y="658.6" font-size="8.2" text-anchor="middle" fill="#231f20">HC4</text>
<text x="73.6" y="683" font-size="8.2" text-anchor="middle" fill="#231f20">720</text>
<text x="105.7" y="654.4" font-size="8.2" text-anchor="middle" fill="#231f20">700</text>
<text x="164.3" y="658.5" font-size="8.2" text-anchor="middle" fill="#231f20">501</text>
<text x="192.5" y="685.5" font-size="8.2" text-anchor="middle" fill="#231f20">615</text>
<text x="92.6" y="674.6" font-size="8.2" text-anchor="middle" fill="#231f20">0</text>
<text x="130" y="673.3" font-size="8.2" text-anchor="middle" fill="#231f20">1</text>
<text x="175.2" y="672" font-size="8.2" text-anchor="middle" fill="#231f20">0</text>
<text x="114.6" y="694.4" font-size="8.2" text-anchor="middle" fill="#231f20">0</text>
<text x="152.5" y="694" font-size="8.2" text-anchor="middle" fill="#231f20">0</text>
<text x="101.9" y="717.5" font-size="8.2" text-anchor="middle" fill="#231f20">0</text>
<text x="134.8" y="713" font-size="8.2" text-anchor="middle" fill="#231f20">0</text>
<text x="166" y="716.6" font-size="8.2" text-anchor="middle" fill="#231f20">1</text>
<text x="122.5" y="730" font-size="8.2" text-anchor="middle" fill="#231f20">0</text>
<text x="148.9" y="730" font-size="8.2" text-anchor="middle" fill="#231f20">0</text>
<text x="134.5" y="745" font-size="8.2" text-anchor="middle" fill="#231f20">1</text>
<ellipse transform="translate(94.4,830.6) rotate(39.2)" rx="58.1" ry="30.7" fill="rgb(160,216,242)" style="mix-blend-mode:multiply"/>
<ellipse transform="translate(125.65,814.5) rotate(39.2)" rx="59.2" ry="31.8" fill="rgb(150,178,200)" style="mix-blend-mode:multiply"/>
<ellipse transform="translate(121,813.9) rotate(-39.5)" rx="61.6" ry="28.9" fill="rgb(222,124,142)" style="mix-blend-mode:multiply"/>
<ellipse transform="translate(154.9,829.5) rotate(-37.5)" rx="58" ry="31.7" fill="rgb(253,240,212)" style="mix-blend-mode:multiply"/>
<text x="60.3" y="784" font-size="8.2" text-anchor="middle" fill="#231f20">pES1</text>
<text x="95.5" y="767" font-size="8.2" text-anchor="middle" fill="#231f20">pES2</text>
<text x="156" y="766" font-size="8.2" text-anchor="middle" fill="#231f20">pES3</text>
<text x="192" y="784" font-size="8.2" text-anchor="middle" fill="#231f20">pES4</text>
<text x="65" y="808" font-size="8.2" text-anchor="middle" fill="#231f20">397</text>
<text x="96.5" y="779" font-size="8.2" text-anchor="middle" fill="#231f20">461</text>
<text x="152" y="779" font-size="8.2" text-anchor="middle" fill="#231f20">429</text>
<text x="181" y="810" font-size="8.2" text-anchor="middle" fill="#231f20">444</text>
<text x="84" y="797" font-size="8.2" text-anchor="middle" fill="#231f20">4</text>
<text x="121" y="797" font-size="8.2" text-anchor="middle" fill="#231f20">0</text>
<text x="164" y="797" font-size="8.2" text-anchor="middle" fill="#231f20">0</text>
<text x="104" y="818" font-size="8.2" text-anchor="middle" fill="#231f20">0</text>
<text x="141" y="818" font-size="8.2" text-anchor="middle" fill="#231f20">0</text>
<text x="93" y="841" font-size="8.2" text-anchor="middle" fill="#231f20">0</text>
<text x="125" y="837" font-size="8.2" text-anchor="middle" fill="#231f20">0</text>
<text x="158" y="841" font-size="8.2" text-anchor="middle" fill="#231f20">24</text>
<text x="112" y="850" font-size="8.2" text-anchor="middle" fill="#231f20">0</text>
<text x="139" y="850" font-size="8.2" text-anchor="middle" fill="#231f20">1</text>
<text x="125" y="865" font-size="8.2" text-anchor="middle" fill="#231f20">0</text>
<text transform="translate(287.2,638.75) scale(0.89,1)" font-size="17" font-weight="bold" fill="#000">H</text>
<rect x="301.2" y="653.5" width="66.5" height="222.7" fill="#fdf0d3"/>
<rect x="301.2" y="653.5" width="66.5" height="22.3" fill="#29a1e0"/>
<line x1="301.2" y1="675.6" x2="367.7" y2="675.6" stroke="#1d6e9e" stroke-width="1"/>
<rect x="301.2" y="653.5" width="66.5" height="222.7" fill="none" stroke="#3a3a3a" stroke-width="1.0"/>
<text x="306.1" y="663.2" font-size="8.2" font-weight="bold" fill="#fff" textLength="56.6" lengthAdjust="spacingAndGlyphs">Shared clones</text>
<text x="306.1" y="671.6" font-size="8.2" font-weight="bold" fill="#fff">in pES</text>
<text x="306" y="683.1" font-size="5.7" text-anchor="start" fill="#d2455c" textLength="44.41" lengthAdjust="spacingAndGlyphs">SVDRGTGSPEAF</text>
<text x="306" y="689.8" font-size="5.7" text-anchor="start" fill="#5cb85c" textLength="33.91" lengthAdjust="spacingAndGlyphs">SVSQGETQY</text>
<text x="306" y="696.51" font-size="5.7" text-anchor="start" fill="#5cb85c" textLength="39.81" lengthAdjust="spacingAndGlyphs">SVLYRAGSGYT</text>
<text x="306" y="703.21" font-size="5.7" text-anchor="start" fill="#5cb85c" textLength="43.8" lengthAdjust="spacingAndGlyphs">SVGWTGITDTQY</text>
<text x="306" y="709.92" font-size="5.7" text-anchor="start" fill="#5cb85c" textLength="57.01" lengthAdjust="spacingAndGlyphs">SVGMFGLQGASNEQF</text>
<text x="306" y="716.62" font-size="5.7" text-anchor="start" fill="#5cb85c" textLength="45.61" lengthAdjust="spacingAndGlyphs">SVGEAGGDYGYT</text>
<text x="306" y="723.32" font-size="5.7" text-anchor="start" fill="#5cb85c" textLength="53.1" lengthAdjust="spacingAndGlyphs">SVESMGTGGTDTQY</text>
<text x="306" y="730.03" font-size="5.7" text-anchor="start" fill="#5cb85c" textLength="33.01" lengthAdjust="spacingAndGlyphs">SVEPGREAF</text>
<text x="306" y="736.73" font-size="5.7" text-anchor="start" fill="#5cb85c" textLength="52.41" lengthAdjust="spacingAndGlyphs">SVAPGNSGGTDTQY</text>
<text x="306" y="743.44" font-size="5.7" text-anchor="start" fill="#5cb85c" textLength="39.81" lengthAdjust="spacingAndGlyphs">SVALRGKGEAF</text>
<text x="306" y="750.14" font-size="5.7" text-anchor="start" fill="#5cb85c" textLength="38.11" lengthAdjust="spacingAndGlyphs">SASPSGQPQH</text>
<text x="306" y="756.84" font-size="5.7" text-anchor="start" fill="#5cb85c" textLength="39.21" lengthAdjust="spacingAndGlyphs">SARDLNRVKLF</text>
<text x="306" y="763.55" font-size="5.7" text-anchor="start" fill="#5cb85c" textLength="38.9" lengthAdjust="spacingAndGlyphs">ATSRDLQTEAF</text>
<text x="306" y="770.25" font-size="5.7" text-anchor="start" fill="#5cb85c" textLength="50" lengthAdjust="spacingAndGlyphs">ASTPGTAKFTDTQY</text>
<text x="306" y="776.96" font-size="5.7" text-anchor="start" fill="#5cb85c" textLength="40.51" lengthAdjust="spacingAndGlyphs">ASSVGSKETQY</text>
<text x="306" y="783.66" font-size="5.7" text-anchor="start" fill="#5cb85c" textLength="46.91" lengthAdjust="spacingAndGlyphs">ASSVDVAGRTEAF</text>
<text x="306" y="790.36" font-size="5.7" text-anchor="start" fill="#5cb85c" textLength="46.51" lengthAdjust="spacingAndGlyphs">ASSSTLAGTYGYT</text>
<text x="306" y="797.07" font-size="5.7" text-anchor="start" fill="#5cb85c" textLength="44.71" lengthAdjust="spacingAndGlyphs">ASSRLESNQPQH</text>
<text x="306" y="803.77" font-size="5.7" text-anchor="start" fill="#5cb85c" textLength="39.41" lengthAdjust="spacingAndGlyphs">ASSQVTAYGYT</text>
<text x="306" y="810.48" font-size="5.7" text-anchor="start" fill="#5cb85c" textLength="48.91" lengthAdjust="spacingAndGlyphs">ASSQEESQGETQY</text>
<text x="306" y="817.18" font-size="5.7" text-anchor="start" fill="#5cb85c" textLength="51.61" lengthAdjust="spacingAndGlyphs">ASSQDLRPGGTEAF</text>
<text x="306" y="823.88" font-size="5.7" text-anchor="start" fill="#5cb85c" textLength="48.01" lengthAdjust="spacingAndGlyphs">ASSPLGTGGPEQF</text>
<text x="306" y="830.59" font-size="5.7" text-anchor="start" fill="#5cb85c" textLength="40.21" lengthAdjust="spacingAndGlyphs">ASSNTPNYGYT</text>
<text x="306" y="837.29" font-size="5.7" text-anchor="start" fill="#5cb85c" textLength="51.31" lengthAdjust="spacingAndGlyphs">ASSFGTGVSGAEAF</text>
<text x="306" y="844" font-size="5.7" text-anchor="start" fill="#5cb85c" textLength="57.31" lengthAdjust="spacingAndGlyphs">ASSFDQGAEWSYEQY</text>
<text x="306" y="850.7" font-size="5.7" text-anchor="start" fill="#5cb85c" textLength="44.11" lengthAdjust="spacingAndGlyphs">ASSDRRGTGELF</text>
<text x="306" y="857.4" font-size="5.7" text-anchor="start" fill="#5cb85c" textLength="33.91" lengthAdjust="spacingAndGlyphs">ASSDGDTQY</text>
<text x="306" y="864.11" font-size="5.7" text-anchor="start" fill="#5cb85c" textLength="41.71" lengthAdjust="spacingAndGlyphs">AISEGDRREKLF</text>
<text x="306" y="870.81" font-size="5.7" text-anchor="start" fill="#5cb85c" textLength="39.9" lengthAdjust="spacingAndGlyphs">AIRDQGEDGYT</text>
<rect x="369.8" y="653.5" width="65" height="222.7" fill="#fdf0d3"/>
<rect x="369.8" y="653.5" width="65" height="22.3" fill="#29a1e0"/>
<line x1="369.8" y1="675.6" x2="434.8" y2="675.6" stroke="#1d6e9e" stroke-width="1"/>
<rect x="369.8" y="653.5" width="65" height="222.7" fill="none" stroke="#3a3a3a" stroke-width="1.0"/>
<text x="374.7" y="663.2" font-size="8.2" font-weight="bold" fill="#fff" textLength="56.6" lengthAdjust="spacingAndGlyphs">Shared clones</text>
<text x="374.7" y="671.6" font-size="8.2" font-weight="bold" fill="#fff">in HCs</text>
<text x="374.6" y="683.1" font-size="5.7" text-anchor="start" fill="#5cb85c" textLength="32.41" lengthAdjust="spacingAndGlyphs">ASSLRETQY</text>
<text x="374.6" y="689.8" font-size="5.7" text-anchor="start" fill="#5cb85c" textLength="39.5" lengthAdjust="spacingAndGlyphs">ATSDPSTDTQY</text>
<text x="374.6" y="696.51" font-size="5.7" text-anchor="start" fill="#5cb85c" textLength="44.42" lengthAdjust="spacingAndGlyphs">ASSVDRASYEQY</text>
<rect x="436.9" y="653.5" width="68.6" height="222.7" fill="#fdf0d3"/>
<rect x="436.9" y="653.5" width="68.6" height="22.3" fill="#29a1e0"/>
<line x1="436.9" y1="675.6" x2="505.5" y2="675.6" stroke="#1d6e9e" stroke-width="1"/>
<rect x="436.9" y="653.5" width="68.6" height="222.7" fill="none" stroke="#3a3a3a" stroke-width="1.0"/>
<text x="441.8" y="663.2" font-size="8.2" font-weight="bold" fill="#fff" textLength="56.6" lengthAdjust="spacingAndGlyphs">Shared clones</text>
<text x="441.8" y="671.6" font-size="8.2" font-weight="bold" fill="#fff">in HC &amp; pES</text>
<text x="441.7" y="683.1" font-size="5.7" text-anchor="start" fill="#5cb85c" textLength="32.71" lengthAdjust="spacingAndGlyphs">ASSLQETQY</text>
<text x="441.7" y="689.8" font-size="5.7" text-anchor="start" fill="#5cb85c" textLength="36.61" lengthAdjust="spacingAndGlyphs">ASSSPSDTQY</text>
<text x="441.7" y="696.51" font-size="5.7" text-anchor="start" fill="#5cb85c" textLength="33.61" lengthAdjust="spacingAndGlyphs">ASSQSYEQY</text>
<text x="441.7" y="703.21" font-size="5.7" text-anchor="start" fill="#5cb85c" textLength="40.81" lengthAdjust="spacingAndGlyphs">ASSPPGADTQY</text>
<circle cx="306.8" cy="885" r="4.1" fill="#c8102e"/>
<circle cx="306.8" cy="898.1" r="4.1" fill="#39b54a"/>
<text x="315.8" y="888.8" font-size="9.5" text-anchor="start" fill="#231f20" textLength="151.2" lengthAdjust="spacingAndGlyphs">Shared sequence among 3 samples</text>
<text x="315.8" y="901.9" font-size="9.5" text-anchor="start" fill="#231f20" textLength="157.8" lengthAdjust="spacingAndGlyphs">Shared sequence between 2 samples</text>
<rect x="0.9" y="0.9" width="518.2" height="912.2" fill="none" stroke="#000" stroke-width="1.9"/>
</svg></body></html>
